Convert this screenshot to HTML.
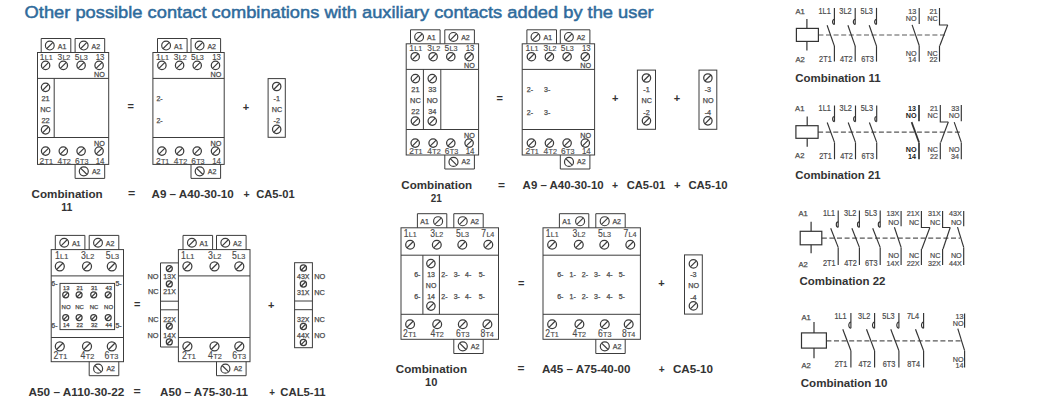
<!DOCTYPE html>
<html><head><meta charset="utf-8"><style>
html,body{margin:0;padding:0;background:#fff;}
body{width:1060px;height:414px;overflow:hidden;}
svg{display:block;font-family:"Liberation Sans",sans-serif;}
</style></head><body>
<svg width="1060" height="414" viewBox="0 0 1060 414">
<rect x="0" y="0" width="1060" height="414" fill="#fff"/>
<text x="24.63" y="18.2" font-size="17.4" fill="#2f6b9c" stroke="#2f6b9c" stroke-width="0.5" textLength="629.07" lengthAdjust="spacingAndGlyphs">Other possible contact combinations with auxiliary contacts added by the user</text>
<rect x="37.5" y="52.5" width="71.2" height="111.9" fill="none" stroke="#3c3c3c" stroke-width="1"/>
<line x1="37.5" y1="78.4" x2="108.7" y2="78.4" stroke="#3c3c3c" stroke-width="1"/>
<line x1="37.5" y1="137.5" x2="108.7" y2="137.5" stroke="#3c3c3c" stroke-width="1"/>
<polyline points="41.2,52.5 41.2,38.5 70.8,38.5 70.8,52.5" fill="none" stroke="#3c3c3c" stroke-width="1"/>
<polyline points="75.1,52.5 75.1,38.5 104.7,38.5 104.7,52.5" fill="none" stroke="#3c3c3c" stroke-width="1"/>
<circle cx="49.8" cy="45.6" r="4.4" fill="none" stroke="#3c3c3c" stroke-width="1.15"/>
<line x1="46.63" y1="48.77" x2="52.97" y2="42.43" stroke="#3c3c3c" stroke-width="1.15"/>
<text x="57.8" y="48.5" font-size="7" fill="#4a4a4a" stroke="#4a4a4a" stroke-width="0.25">A1</text>
<circle cx="83.7" cy="45.6" r="4.4" fill="none" stroke="#3c3c3c" stroke-width="1.15"/>
<line x1="80.53" y1="48.77" x2="86.87" y2="42.43" stroke="#3c3c3c" stroke-width="1.15"/>
<text x="91.5" y="48.5" font-size="7" fill="#4a4a4a" stroke="#4a4a4a" stroke-width="0.25">A2</text>
<circle cx="45.6" cy="65.4" r="4.2" fill="none" stroke="#3c3c3c" stroke-width="1.25"/>
<line x1="42.58" y1="68.42" x2="48.62" y2="62.38" stroke="#3c3c3c" stroke-width="1.25"/>
<circle cx="63.3" cy="65.4" r="4.2" fill="none" stroke="#3c3c3c" stroke-width="1.25"/>
<line x1="60.28" y1="68.42" x2="66.32" y2="62.38" stroke="#3c3c3c" stroke-width="1.25"/>
<circle cx="81.1" cy="65.4" r="4.2" fill="none" stroke="#3c3c3c" stroke-width="1.25"/>
<line x1="78.08" y1="68.42" x2="84.12" y2="62.38" stroke="#3c3c3c" stroke-width="1.25"/>
<circle cx="99.1" cy="65.4" r="4.2" fill="none" stroke="#3c3c3c" stroke-width="1.25"/>
<line x1="96.08" y1="68.42" x2="102.12" y2="62.38" stroke="#3c3c3c" stroke-width="1.25"/>
<text transform="translate(39.7,60) scale(0.86,1)" font-size="9.8" fill="#4a4a4a" stroke="#4a4a4a" stroke-width="0.15">1</text>
<text x="44.69" y="60" font-size="7.2" fill="#4a4a4a" stroke="#4a4a4a" stroke-width="0.15">L1</text>
<text transform="translate(57.4,60) scale(0.86,1)" font-size="9.8" fill="#4a4a4a" stroke="#4a4a4a" stroke-width="0.15">3</text>
<text x="62.39" y="60" font-size="7.2" fill="#4a4a4a" stroke="#4a4a4a" stroke-width="0.15">L2</text>
<text transform="translate(74.8,60) scale(0.86,1)" font-size="9.8" fill="#4a4a4a" stroke="#4a4a4a" stroke-width="0.15">5</text>
<text x="79.79" y="60" font-size="7.2" fill="#4a4a4a" stroke="#4a4a4a" stroke-width="0.15">L3</text>
<text transform="translate(104.5,60) scale(0.82,1)" font-size="9.6" text-anchor="end" fill="#4a4a4a" stroke="#4a4a4a" stroke-width="0.15">13</text>
<text transform="translate(104.9,76.9) scale(0.95,1)" font-size="7.6" text-anchor="end" fill="#4a4a4a" stroke="#4a4a4a" stroke-width="0.25">NO</text>
<circle cx="45.6" cy="151.1" r="4.2" fill="none" stroke="#3c3c3c" stroke-width="1.25"/>
<line x1="42.58" y1="154.12" x2="48.62" y2="148.08" stroke="#3c3c3c" stroke-width="1.25"/>
<circle cx="63.3" cy="151.1" r="4.2" fill="none" stroke="#3c3c3c" stroke-width="1.25"/>
<line x1="60.28" y1="154.12" x2="66.32" y2="148.08" stroke="#3c3c3c" stroke-width="1.25"/>
<circle cx="81.1" cy="151.1" r="4.2" fill="none" stroke="#3c3c3c" stroke-width="1.25"/>
<line x1="78.08" y1="154.12" x2="84.12" y2="148.08" stroke="#3c3c3c" stroke-width="1.25"/>
<circle cx="99.1" cy="151.1" r="4.2" fill="none" stroke="#3c3c3c" stroke-width="1.25"/>
<line x1="96.08" y1="154.12" x2="102.12" y2="148.08" stroke="#3c3c3c" stroke-width="1.25"/>
<text transform="translate(104.9,145.8) scale(0.95,1)" font-size="7.6" text-anchor="end" fill="#4a4a4a" stroke="#4a4a4a" stroke-width="0.25">NO</text>
<text transform="translate(39.6,163.5) scale(0.86,1)" font-size="9.8" fill="#4a4a4a" stroke="#4a4a4a" stroke-width="0.15">2</text>
<text x="44.59" y="163.5" font-size="7.2" fill="#4a4a4a" stroke="#4a4a4a" stroke-width="0.15">T1</text>
<text transform="translate(57.5,163.5) scale(0.86,1)" font-size="9.8" fill="#4a4a4a" stroke="#4a4a4a" stroke-width="0.15">4</text>
<text x="62.49" y="163.5" font-size="7.2" fill="#4a4a4a" stroke="#4a4a4a" stroke-width="0.15">T2</text>
<text transform="translate(75.1,163.5) scale(0.86,1)" font-size="9.8" fill="#4a4a4a" stroke="#4a4a4a" stroke-width="0.15">6</text>
<text x="80.09" y="163.5" font-size="7.2" fill="#4a4a4a" stroke="#4a4a4a" stroke-width="0.15">T3</text>
<text transform="translate(104.5,163.5) scale(0.82,1)" font-size="9.6" text-anchor="end" fill="#4a4a4a" stroke="#4a4a4a" stroke-width="0.15">14</text>
<polyline points="75.1,164.4 75.1,178.4 104.7,178.4 104.7,164.4" fill="none" stroke="#3c3c3c" stroke-width="1"/>
<circle cx="83.8" cy="171.3" r="4.5" fill="none" stroke="#3c3c3c" stroke-width="1.2"/>
<line x1="80.56" y1="168.06" x2="87.04" y2="174.54" stroke="#3c3c3c" stroke-width="1.2"/>
<text x="91.9" y="173.8" font-size="7" fill="#4a4a4a" stroke="#4a4a4a" stroke-width="0.25">A2</text>
<line x1="54.2" y1="78.5" x2="54.2" y2="138" stroke="#3c3c3c" stroke-width="1"/>
<circle cx="45.55" cy="87.3" r="4.2" fill="none" stroke="#3c3c3c" stroke-width="1.25"/>
<line x1="42.53" y1="90.32" x2="48.57" y2="84.28" stroke="#3c3c3c" stroke-width="1.25"/>
<text x="45.55" y="100.96" font-size="7.4" text-anchor="middle" fill="#4a4a4a" stroke="#4a4a4a" stroke-width="0.25">21</text>
<text x="45.55" y="111.66" font-size="7.4" text-anchor="middle" fill="#4a4a4a" stroke="#4a4a4a" stroke-width="0.25">NC</text>
<text x="45.55" y="123.16" font-size="7.4" text-anchor="middle" fill="#4a4a4a" stroke="#4a4a4a" stroke-width="0.25">22</text>
<circle cx="45.55" cy="129.8" r="4.2" fill="none" stroke="#3c3c3c" stroke-width="1.25"/>
<line x1="42.53" y1="132.82" x2="48.57" y2="126.78" stroke="#3c3c3c" stroke-width="1.25"/>
<text x="130.6" y="110.43" font-size="11" text-anchor="middle" font-weight="bold" fill="#333">=</text>
<rect x="152.9" y="52.5" width="71.3" height="111.9" fill="none" stroke="#3c3c3c" stroke-width="1"/>
<line x1="152.9" y1="78.4" x2="224.2" y2="78.4" stroke="#3c3c3c" stroke-width="1"/>
<line x1="152.9" y1="137.5" x2="224.2" y2="137.5" stroke="#3c3c3c" stroke-width="1"/>
<polyline points="157.5,52.5 157.5,38.5 187.1,38.5 187.1,52.5" fill="none" stroke="#3c3c3c" stroke-width="1"/>
<polyline points="191,52.5 191,38.5 220.6,38.5 220.6,52.5" fill="none" stroke="#3c3c3c" stroke-width="1"/>
<circle cx="166.1" cy="45.6" r="4.4" fill="none" stroke="#3c3c3c" stroke-width="1.15"/>
<line x1="162.93" y1="48.77" x2="169.27" y2="42.43" stroke="#3c3c3c" stroke-width="1.15"/>
<text x="174.1" y="48.5" font-size="7" fill="#4a4a4a" stroke="#4a4a4a" stroke-width="0.25">A1</text>
<circle cx="199.6" cy="45.6" r="4.4" fill="none" stroke="#3c3c3c" stroke-width="1.15"/>
<line x1="196.43" y1="48.77" x2="202.77" y2="42.43" stroke="#3c3c3c" stroke-width="1.15"/>
<text x="207.4" y="48.5" font-size="7" fill="#4a4a4a" stroke="#4a4a4a" stroke-width="0.25">A2</text>
<circle cx="161.9" cy="65.4" r="4.2" fill="none" stroke="#3c3c3c" stroke-width="1.25"/>
<line x1="158.88" y1="68.42" x2="164.92" y2="62.38" stroke="#3c3c3c" stroke-width="1.25"/>
<circle cx="179.6" cy="65.4" r="4.2" fill="none" stroke="#3c3c3c" stroke-width="1.25"/>
<line x1="176.58" y1="68.42" x2="182.62" y2="62.38" stroke="#3c3c3c" stroke-width="1.25"/>
<circle cx="197.2" cy="65.4" r="4.2" fill="none" stroke="#3c3c3c" stroke-width="1.25"/>
<line x1="194.18" y1="68.42" x2="200.22" y2="62.38" stroke="#3c3c3c" stroke-width="1.25"/>
<circle cx="215.5" cy="65.4" r="4.2" fill="none" stroke="#3c3c3c" stroke-width="1.25"/>
<line x1="212.48" y1="68.42" x2="218.52" y2="62.38" stroke="#3c3c3c" stroke-width="1.25"/>
<text transform="translate(156,60) scale(0.86,1)" font-size="9.8" fill="#4a4a4a" stroke="#4a4a4a" stroke-width="0.15">1</text>
<text x="160.99" y="60" font-size="7.2" fill="#4a4a4a" stroke="#4a4a4a" stroke-width="0.15">L1</text>
<text transform="translate(173.7,60) scale(0.86,1)" font-size="9.8" fill="#4a4a4a" stroke="#4a4a4a" stroke-width="0.15">3</text>
<text x="178.69" y="60" font-size="7.2" fill="#4a4a4a" stroke="#4a4a4a" stroke-width="0.15">L2</text>
<text transform="translate(190.9,60) scale(0.86,1)" font-size="9.8" fill="#4a4a4a" stroke="#4a4a4a" stroke-width="0.15">5</text>
<text x="195.89" y="60" font-size="7.2" fill="#4a4a4a" stroke="#4a4a4a" stroke-width="0.15">L3</text>
<text transform="translate(220.9,60) scale(0.82,1)" font-size="9.6" text-anchor="end" fill="#4a4a4a" stroke="#4a4a4a" stroke-width="0.15">13</text>
<text transform="translate(221.3,76.9) scale(0.95,1)" font-size="7.6" text-anchor="end" fill="#4a4a4a" stroke="#4a4a4a" stroke-width="0.25">NO</text>
<circle cx="161.9" cy="151.1" r="4.2" fill="none" stroke="#3c3c3c" stroke-width="1.25"/>
<line x1="158.88" y1="154.12" x2="164.92" y2="148.08" stroke="#3c3c3c" stroke-width="1.25"/>
<circle cx="179.6" cy="151.1" r="4.2" fill="none" stroke="#3c3c3c" stroke-width="1.25"/>
<line x1="176.58" y1="154.12" x2="182.62" y2="148.08" stroke="#3c3c3c" stroke-width="1.25"/>
<circle cx="197.2" cy="151.1" r="4.2" fill="none" stroke="#3c3c3c" stroke-width="1.25"/>
<line x1="194.18" y1="154.12" x2="200.22" y2="148.08" stroke="#3c3c3c" stroke-width="1.25"/>
<circle cx="215.5" cy="151.1" r="4.2" fill="none" stroke="#3c3c3c" stroke-width="1.25"/>
<line x1="212.48" y1="154.12" x2="218.52" y2="148.08" stroke="#3c3c3c" stroke-width="1.25"/>
<text transform="translate(221.3,145.8) scale(0.95,1)" font-size="7.6" text-anchor="end" fill="#4a4a4a" stroke="#4a4a4a" stroke-width="0.25">NO</text>
<text transform="translate(155.9,163.5) scale(0.86,1)" font-size="9.8" fill="#4a4a4a" stroke="#4a4a4a" stroke-width="0.15">2</text>
<text x="160.89" y="163.5" font-size="7.2" fill="#4a4a4a" stroke="#4a4a4a" stroke-width="0.15">T1</text>
<text transform="translate(173.8,163.5) scale(0.86,1)" font-size="9.8" fill="#4a4a4a" stroke="#4a4a4a" stroke-width="0.15">4</text>
<text x="178.79" y="163.5" font-size="7.2" fill="#4a4a4a" stroke="#4a4a4a" stroke-width="0.15">T2</text>
<text transform="translate(191.2,163.5) scale(0.86,1)" font-size="9.8" fill="#4a4a4a" stroke="#4a4a4a" stroke-width="0.15">6</text>
<text x="196.19" y="163.5" font-size="7.2" fill="#4a4a4a" stroke="#4a4a4a" stroke-width="0.15">T3</text>
<text transform="translate(220.9,163.5) scale(0.82,1)" font-size="9.6" text-anchor="end" fill="#4a4a4a" stroke="#4a4a4a" stroke-width="0.15">14</text>
<polyline points="191,164.4 191,178.4 220.6,178.4 220.6,164.4" fill="none" stroke="#3c3c3c" stroke-width="1"/>
<circle cx="199.7" cy="171.3" r="4.5" fill="none" stroke="#3c3c3c" stroke-width="1.2"/>
<line x1="196.46" y1="168.06" x2="202.94" y2="174.54" stroke="#3c3c3c" stroke-width="1.2"/>
<text x="207.8" y="173.8" font-size="7" fill="#4a4a4a" stroke="#4a4a4a" stroke-width="0.25">A2</text>
<text x="156.4" y="101.12" font-size="7" fill="#4a4a4a" stroke="#4a4a4a" stroke-width="0.25">2-</text>
<text x="156.4" y="122.82" font-size="7" fill="#4a4a4a" stroke="#4a4a4a" stroke-width="0.25">2-</text>
<text x="245.9" y="110.53" font-size="11" text-anchor="middle" font-weight="bold" fill="#333">+</text>
<rect x="268.1" y="78.6" width="17.2" height="58.7" fill="none" stroke="#3c3c3c" stroke-width="1"/>
<circle cx="276.7" cy="86.5" r="4.2" fill="none" stroke="#3c3c3c" stroke-width="1.25"/>
<line x1="273.68" y1="89.52" x2="279.72" y2="83.48" stroke="#3c3c3c" stroke-width="1.25"/>
<text x="276.7" y="100.69" font-size="7.2" text-anchor="middle" fill="#4a4a4a" stroke="#4a4a4a" stroke-width="0.25">-1</text>
<text x="276.9" y="111.79" font-size="7.2" text-anchor="middle" fill="#4a4a4a" stroke="#4a4a4a" stroke-width="0.25">NC</text>
<text x="276.7" y="123.39" font-size="7.2" text-anchor="middle" fill="#4a4a4a" stroke="#4a4a4a" stroke-width="0.25">-2</text>
<circle cx="276.7" cy="129.3" r="4.2" fill="none" stroke="#3c3c3c" stroke-width="1.25"/>
<line x1="273.68" y1="132.32" x2="279.72" y2="126.28" stroke="#3c3c3c" stroke-width="1.25"/>
<text x="31.52" y="197.8" font-size="11.4" font-weight="bold" fill="#333" textLength="71.2" lengthAdjust="spacingAndGlyphs">Combination</text>
<text x="61.17" y="211.4" font-size="11.4" font-weight="bold" fill="#333" textLength="11.11" lengthAdjust="spacingAndGlyphs">11</text>
<text x="128.09" y="197" font-size="11.4" font-weight="bold" fill="#333" textLength="7.22" lengthAdjust="spacingAndGlyphs">=</text>
<text x="151.51" y="197.8" font-size="11.4" font-weight="bold" fill="#333" textLength="82.26" lengthAdjust="spacingAndGlyphs">A9 – A40-30-10</text>
<text x="243.46" y="197.8" font-size="11.4" font-weight="bold" fill="#333" textLength="6.17" lengthAdjust="spacingAndGlyphs">+</text>
<text x="256.24" y="197.8" font-size="11.4" font-weight="bold" fill="#333" textLength="38.47" lengthAdjust="spacingAndGlyphs">CA5-01</text>
<rect x="406.2" y="43.8" width="72.4" height="111.2" fill="none" stroke="#3c3c3c" stroke-width="1"/>
<line x1="406.2" y1="69.4" x2="478.6" y2="69.4" stroke="#3c3c3c" stroke-width="1"/>
<line x1="406.2" y1="129.5" x2="478.6" y2="129.5" stroke="#3c3c3c" stroke-width="1"/>
<polyline points="410.5,43.8 410.5,29.8 440.1,29.8 440.1,43.8" fill="none" stroke="#3c3c3c" stroke-width="1"/>
<polyline points="444.8,43.8 444.8,29.8 474.4,29.8 474.4,43.8" fill="none" stroke="#3c3c3c" stroke-width="1"/>
<circle cx="419.1" cy="36.9" r="4.4" fill="none" stroke="#3c3c3c" stroke-width="1.15"/>
<line x1="415.93" y1="40.07" x2="422.27" y2="33.73" stroke="#3c3c3c" stroke-width="1.15"/>
<text x="427.1" y="39.8" font-size="7" fill="#4a4a4a" stroke="#4a4a4a" stroke-width="0.25">A1</text>
<circle cx="453.4" cy="36.9" r="4.4" fill="none" stroke="#3c3c3c" stroke-width="1.15"/>
<line x1="450.23" y1="40.07" x2="456.57" y2="33.73" stroke="#3c3c3c" stroke-width="1.15"/>
<text x="461.2" y="39.8" font-size="7" fill="#4a4a4a" stroke="#4a4a4a" stroke-width="0.25">A2</text>
<circle cx="415.2" cy="56.7" r="4.2" fill="none" stroke="#3c3c3c" stroke-width="1.25"/>
<line x1="412.18" y1="59.72" x2="418.22" y2="53.68" stroke="#3c3c3c" stroke-width="1.25"/>
<circle cx="433.1" cy="56.7" r="4.2" fill="none" stroke="#3c3c3c" stroke-width="1.25"/>
<line x1="430.08" y1="59.72" x2="436.12" y2="53.68" stroke="#3c3c3c" stroke-width="1.25"/>
<circle cx="450.8" cy="56.7" r="4.2" fill="none" stroke="#3c3c3c" stroke-width="1.25"/>
<line x1="447.78" y1="59.72" x2="453.82" y2="53.68" stroke="#3c3c3c" stroke-width="1.25"/>
<circle cx="469.1" cy="56.7" r="4.2" fill="none" stroke="#3c3c3c" stroke-width="1.25"/>
<line x1="466.08" y1="59.72" x2="472.12" y2="53.68" stroke="#3c3c3c" stroke-width="1.25"/>
<text transform="translate(409.3,51.3) scale(0.86,1)" font-size="9.8" fill="#4a4a4a" stroke="#4a4a4a" stroke-width="0.15">1</text>
<text x="414.29" y="51.3" font-size="7.2" fill="#4a4a4a" stroke="#4a4a4a" stroke-width="0.15">L1</text>
<text transform="translate(427.2,51.3) scale(0.86,1)" font-size="9.8" fill="#4a4a4a" stroke="#4a4a4a" stroke-width="0.15">3</text>
<text x="432.19" y="51.3" font-size="7.2" fill="#4a4a4a" stroke="#4a4a4a" stroke-width="0.15">L2</text>
<text transform="translate(444.5,51.3) scale(0.86,1)" font-size="9.8" fill="#4a4a4a" stroke="#4a4a4a" stroke-width="0.15">5</text>
<text x="449.49" y="51.3" font-size="7.2" fill="#4a4a4a" stroke="#4a4a4a" stroke-width="0.15">L3</text>
<text transform="translate(474.5,51.3) scale(0.82,1)" font-size="9.6" text-anchor="end" fill="#4a4a4a" stroke="#4a4a4a" stroke-width="0.15">13</text>
<text transform="translate(474.9,68.2) scale(0.95,1)" font-size="7.6" text-anchor="end" fill="#4a4a4a" stroke="#4a4a4a" stroke-width="0.25">NO</text>
<circle cx="415.2" cy="143.1" r="4.2" fill="none" stroke="#3c3c3c" stroke-width="1.25"/>
<line x1="412.18" y1="146.12" x2="418.22" y2="140.08" stroke="#3c3c3c" stroke-width="1.25"/>
<circle cx="433.1" cy="143.1" r="4.2" fill="none" stroke="#3c3c3c" stroke-width="1.25"/>
<line x1="430.08" y1="146.12" x2="436.12" y2="140.08" stroke="#3c3c3c" stroke-width="1.25"/>
<circle cx="450.8" cy="143.1" r="4.2" fill="none" stroke="#3c3c3c" stroke-width="1.25"/>
<line x1="447.78" y1="146.12" x2="453.82" y2="140.08" stroke="#3c3c3c" stroke-width="1.25"/>
<circle cx="469.1" cy="143.1" r="4.2" fill="none" stroke="#3c3c3c" stroke-width="1.25"/>
<line x1="466.08" y1="146.12" x2="472.12" y2="140.08" stroke="#3c3c3c" stroke-width="1.25"/>
<text transform="translate(474.9,137.8) scale(0.95,1)" font-size="7.6" text-anchor="end" fill="#4a4a4a" stroke="#4a4a4a" stroke-width="0.25">NO</text>
<text transform="translate(409.2,154.1) scale(0.86,1)" font-size="9.8" fill="#4a4a4a" stroke="#4a4a4a" stroke-width="0.15">2</text>
<text x="414.19" y="154.1" font-size="7.2" fill="#4a4a4a" stroke="#4a4a4a" stroke-width="0.15">T1</text>
<text transform="translate(427.3,154.1) scale(0.86,1)" font-size="9.8" fill="#4a4a4a" stroke="#4a4a4a" stroke-width="0.15">4</text>
<text x="432.29" y="154.1" font-size="7.2" fill="#4a4a4a" stroke="#4a4a4a" stroke-width="0.15">T2</text>
<text transform="translate(444.8,154.1) scale(0.86,1)" font-size="9.8" fill="#4a4a4a" stroke="#4a4a4a" stroke-width="0.15">6</text>
<text x="449.79" y="154.1" font-size="7.2" fill="#4a4a4a" stroke="#4a4a4a" stroke-width="0.15">T3</text>
<text transform="translate(474.5,154.1) scale(0.82,1)" font-size="9.6" text-anchor="end" fill="#4a4a4a" stroke="#4a4a4a" stroke-width="0.15">14</text>
<polyline points="444.8,155 444.8,169 474.4,169 474.4,155" fill="none" stroke="#3c3c3c" stroke-width="1"/>
<circle cx="453.5" cy="161.9" r="4.5" fill="none" stroke="#3c3c3c" stroke-width="1.2"/>
<line x1="450.26" y1="158.66" x2="456.74" y2="165.14" stroke="#3c3c3c" stroke-width="1.2"/>
<text x="461.6" y="164.4" font-size="7" fill="#4a4a4a" stroke="#4a4a4a" stroke-width="0.25">A2</text>
<line x1="423.4" y1="69.4" x2="423.4" y2="129.5" stroke="#3c3c3c" stroke-width="1"/>
<line x1="440.8" y1="69.4" x2="440.8" y2="129.5" stroke="#3c3c3c" stroke-width="1"/>
<circle cx="415.4" cy="78.6" r="4.2" fill="none" stroke="#3c3c3c" stroke-width="1.25"/>
<line x1="412.38" y1="81.62" x2="418.42" y2="75.58" stroke="#3c3c3c" stroke-width="1.25"/>
<text x="415.4" y="92.26" font-size="7.4" text-anchor="middle" fill="#4a4a4a" stroke="#4a4a4a" stroke-width="0.25">21</text>
<text x="415.4" y="102.96" font-size="7.4" text-anchor="middle" fill="#4a4a4a" stroke="#4a4a4a" stroke-width="0.25">NC</text>
<text x="415.4" y="114.46" font-size="7.4" text-anchor="middle" fill="#4a4a4a" stroke="#4a4a4a" stroke-width="0.25">22</text>
<circle cx="415.4" cy="121.1" r="4.2" fill="none" stroke="#3c3c3c" stroke-width="1.25"/>
<line x1="412.38" y1="124.12" x2="418.42" y2="118.08" stroke="#3c3c3c" stroke-width="1.25"/>
<circle cx="432.25" cy="78.6" r="4.2" fill="none" stroke="#3c3c3c" stroke-width="1.25"/>
<line x1="429.23" y1="81.62" x2="435.27" y2="75.58" stroke="#3c3c3c" stroke-width="1.25"/>
<text x="432.25" y="92.26" font-size="7.4" text-anchor="middle" fill="#4a4a4a" stroke="#4a4a4a" stroke-width="0.25">33</text>
<text x="432.25" y="102.96" font-size="7.4" text-anchor="middle" fill="#4a4a4a" stroke="#4a4a4a" stroke-width="0.25">NO</text>
<text x="432.25" y="114.46" font-size="7.4" text-anchor="middle" fill="#4a4a4a" stroke="#4a4a4a" stroke-width="0.25">34</text>
<circle cx="432.25" cy="121.1" r="4.2" fill="none" stroke="#3c3c3c" stroke-width="1.25"/>
<line x1="429.23" y1="124.12" x2="435.27" y2="118.08" stroke="#3c3c3c" stroke-width="1.25"/>
<text x="499.7" y="101.53" font-size="11" text-anchor="middle" font-weight="bold" fill="#333">=</text>
<rect x="522.2" y="43.8" width="72.4" height="111.2" fill="none" stroke="#3c3c3c" stroke-width="1"/>
<line x1="522.2" y1="69.4" x2="594.6" y2="69.4" stroke="#3c3c3c" stroke-width="1"/>
<line x1="522.2" y1="129.5" x2="594.6" y2="129.5" stroke="#3c3c3c" stroke-width="1"/>
<polyline points="526.9,43.8 526.9,29.8 556.5,29.8 556.5,43.8" fill="none" stroke="#3c3c3c" stroke-width="1"/>
<polyline points="560.3,43.8 560.3,29.8 589.9,29.8 589.9,43.8" fill="none" stroke="#3c3c3c" stroke-width="1"/>
<circle cx="535.5" cy="36.9" r="4.4" fill="none" stroke="#3c3c3c" stroke-width="1.15"/>
<line x1="532.33" y1="40.07" x2="538.67" y2="33.73" stroke="#3c3c3c" stroke-width="1.15"/>
<text x="543.5" y="39.8" font-size="7" fill="#4a4a4a" stroke="#4a4a4a" stroke-width="0.25">A1</text>
<circle cx="568.9" cy="36.9" r="4.4" fill="none" stroke="#3c3c3c" stroke-width="1.15"/>
<line x1="565.73" y1="40.07" x2="572.07" y2="33.73" stroke="#3c3c3c" stroke-width="1.15"/>
<text x="576.7" y="39.8" font-size="7" fill="#4a4a4a" stroke="#4a4a4a" stroke-width="0.25">A2</text>
<circle cx="531.4" cy="56.7" r="4.2" fill="none" stroke="#3c3c3c" stroke-width="1.25"/>
<line x1="528.38" y1="59.72" x2="534.42" y2="53.68" stroke="#3c3c3c" stroke-width="1.25"/>
<circle cx="549.4" cy="56.7" r="4.2" fill="none" stroke="#3c3c3c" stroke-width="1.25"/>
<line x1="546.38" y1="59.72" x2="552.42" y2="53.68" stroke="#3c3c3c" stroke-width="1.25"/>
<circle cx="567.1" cy="56.7" r="4.2" fill="none" stroke="#3c3c3c" stroke-width="1.25"/>
<line x1="564.08" y1="59.72" x2="570.12" y2="53.68" stroke="#3c3c3c" stroke-width="1.25"/>
<circle cx="585.3" cy="56.7" r="4.2" fill="none" stroke="#3c3c3c" stroke-width="1.25"/>
<line x1="582.28" y1="59.72" x2="588.32" y2="53.68" stroke="#3c3c3c" stroke-width="1.25"/>
<text transform="translate(525.5,51.3) scale(0.86,1)" font-size="9.8" fill="#4a4a4a" stroke="#4a4a4a" stroke-width="0.15">1</text>
<text x="530.49" y="51.3" font-size="7.2" fill="#4a4a4a" stroke="#4a4a4a" stroke-width="0.15">L1</text>
<text transform="translate(543.5,51.3) scale(0.86,1)" font-size="9.8" fill="#4a4a4a" stroke="#4a4a4a" stroke-width="0.15">3</text>
<text x="548.49" y="51.3" font-size="7.2" fill="#4a4a4a" stroke="#4a4a4a" stroke-width="0.15">L2</text>
<text transform="translate(560.8,51.3) scale(0.86,1)" font-size="9.8" fill="#4a4a4a" stroke="#4a4a4a" stroke-width="0.15">5</text>
<text x="565.79" y="51.3" font-size="7.2" fill="#4a4a4a" stroke="#4a4a4a" stroke-width="0.15">L3</text>
<text transform="translate(590.7,51.3) scale(0.82,1)" font-size="9.6" text-anchor="end" fill="#4a4a4a" stroke="#4a4a4a" stroke-width="0.15">13</text>
<text transform="translate(591.1,68.2) scale(0.95,1)" font-size="7.6" text-anchor="end" fill="#4a4a4a" stroke="#4a4a4a" stroke-width="0.25">NO</text>
<circle cx="531.4" cy="143.1" r="4.2" fill="none" stroke="#3c3c3c" stroke-width="1.25"/>
<line x1="528.38" y1="146.12" x2="534.42" y2="140.08" stroke="#3c3c3c" stroke-width="1.25"/>
<circle cx="549.4" cy="143.1" r="4.2" fill="none" stroke="#3c3c3c" stroke-width="1.25"/>
<line x1="546.38" y1="146.12" x2="552.42" y2="140.08" stroke="#3c3c3c" stroke-width="1.25"/>
<circle cx="567.1" cy="143.1" r="4.2" fill="none" stroke="#3c3c3c" stroke-width="1.25"/>
<line x1="564.08" y1="146.12" x2="570.12" y2="140.08" stroke="#3c3c3c" stroke-width="1.25"/>
<circle cx="585.3" cy="143.1" r="4.2" fill="none" stroke="#3c3c3c" stroke-width="1.25"/>
<line x1="582.28" y1="146.12" x2="588.32" y2="140.08" stroke="#3c3c3c" stroke-width="1.25"/>
<text transform="translate(591.1,137.8) scale(0.95,1)" font-size="7.6" text-anchor="end" fill="#4a4a4a" stroke="#4a4a4a" stroke-width="0.25">NO</text>
<text transform="translate(525.4,154.1) scale(0.86,1)" font-size="9.8" fill="#4a4a4a" stroke="#4a4a4a" stroke-width="0.15">2</text>
<text x="530.39" y="154.1" font-size="7.2" fill="#4a4a4a" stroke="#4a4a4a" stroke-width="0.15">T1</text>
<text transform="translate(543.6,154.1) scale(0.86,1)" font-size="9.8" fill="#4a4a4a" stroke="#4a4a4a" stroke-width="0.15">4</text>
<text x="548.59" y="154.1" font-size="7.2" fill="#4a4a4a" stroke="#4a4a4a" stroke-width="0.15">T2</text>
<text transform="translate(561.1,154.1) scale(0.86,1)" font-size="9.8" fill="#4a4a4a" stroke="#4a4a4a" stroke-width="0.15">6</text>
<text x="566.09" y="154.1" font-size="7.2" fill="#4a4a4a" stroke="#4a4a4a" stroke-width="0.15">T3</text>
<text transform="translate(590.7,154.1) scale(0.82,1)" font-size="9.6" text-anchor="end" fill="#4a4a4a" stroke="#4a4a4a" stroke-width="0.15">14</text>
<polyline points="560.3,155 560.3,169 589.9,169 589.9,155" fill="none" stroke="#3c3c3c" stroke-width="1"/>
<circle cx="569" cy="161.9" r="4.5" fill="none" stroke="#3c3c3c" stroke-width="1.2"/>
<line x1="565.76" y1="158.66" x2="572.24" y2="165.14" stroke="#3c3c3c" stroke-width="1.2"/>
<text x="577.1" y="164.4" font-size="7" fill="#4a4a4a" stroke="#4a4a4a" stroke-width="0.25">A2</text>
<text x="526.8" y="91.72" font-size="7" fill="#4a4a4a" stroke="#4a4a4a" stroke-width="0.25">2-</text>
<text x="544" y="91.72" font-size="7" fill="#4a4a4a" stroke="#4a4a4a" stroke-width="0.25">3-</text>
<text x="526.8" y="114.52" font-size="7" fill="#4a4a4a" stroke="#4a4a4a" stroke-width="0.25">2-</text>
<text x="544" y="114.52" font-size="7" fill="#4a4a4a" stroke="#4a4a4a" stroke-width="0.25">3-</text>
<text x="615.2" y="102.23" font-size="11" text-anchor="middle" font-weight="bold" fill="#333">+</text>
<rect x="637.4" y="70.1" width="18.1" height="59.2" fill="none" stroke="#3c3c3c" stroke-width="1"/>
<circle cx="646.45" cy="78" r="4.2" fill="none" stroke="#3c3c3c" stroke-width="1.25"/>
<line x1="643.43" y1="81.02" x2="649.47" y2="74.98" stroke="#3c3c3c" stroke-width="1.25"/>
<text x="646.45" y="92.19" font-size="7.2" text-anchor="middle" fill="#4a4a4a" stroke="#4a4a4a" stroke-width="0.25">-1</text>
<text x="646.65" y="103.29" font-size="7.2" text-anchor="middle" fill="#4a4a4a" stroke="#4a4a4a" stroke-width="0.25">NC</text>
<text x="646.45" y="114.89" font-size="7.2" text-anchor="middle" fill="#4a4a4a" stroke="#4a4a4a" stroke-width="0.25">-2</text>
<circle cx="646.45" cy="120.8" r="4.2" fill="none" stroke="#3c3c3c" stroke-width="1.25"/>
<line x1="643.43" y1="123.82" x2="649.47" y2="117.78" stroke="#3c3c3c" stroke-width="1.25"/>
<text x="677" y="102.13" font-size="11" text-anchor="middle" font-weight="bold" fill="#333">+</text>
<rect x="699" y="70.1" width="17.8" height="59.2" fill="none" stroke="#3c3c3c" stroke-width="1"/>
<circle cx="707.9" cy="78" r="4.2" fill="none" stroke="#3c3c3c" stroke-width="1.25"/>
<line x1="704.88" y1="81.02" x2="710.92" y2="74.98" stroke="#3c3c3c" stroke-width="1.25"/>
<text x="707.9" y="92.19" font-size="7.2" text-anchor="middle" fill="#4a4a4a" stroke="#4a4a4a" stroke-width="0.25">-3</text>
<text x="708.1" y="103.29" font-size="7.2" text-anchor="middle" fill="#4a4a4a" stroke="#4a4a4a" stroke-width="0.25">NO</text>
<text x="707.9" y="114.89" font-size="7.2" text-anchor="middle" fill="#4a4a4a" stroke="#4a4a4a" stroke-width="0.25">-4</text>
<circle cx="707.9" cy="120.8" r="4.2" fill="none" stroke="#3c3c3c" stroke-width="1.25"/>
<line x1="704.88" y1="123.82" x2="710.92" y2="117.78" stroke="#3c3c3c" stroke-width="1.25"/>
<text x="401.32" y="188.9" font-size="11.4" font-weight="bold" fill="#333" textLength="70.79" lengthAdjust="spacingAndGlyphs">Combination</text>
<text x="430.66" y="202.3" font-size="11.4" font-weight="bold" fill="#333" textLength="11.02" lengthAdjust="spacingAndGlyphs">21</text>
<text x="498.1" y="188.5" font-size="11.4" font-weight="bold" fill="#333" textLength="6.99" lengthAdjust="spacingAndGlyphs">=</text>
<text x="522.62" y="189.2" font-size="11.4" font-weight="bold" fill="#333" textLength="81.05" lengthAdjust="spacingAndGlyphs">A9 – A40-30-10</text>
<text x="612.06" y="189.2" font-size="11.4" font-weight="bold" fill="#333" textLength="6.06" lengthAdjust="spacingAndGlyphs">+</text>
<text x="626.64" y="189.2" font-size="11.4" font-weight="bold" fill="#333" textLength="38.57" lengthAdjust="spacingAndGlyphs">CA5-01</text>
<text x="673.93" y="189.2" font-size="11.4" font-weight="bold" fill="#333" textLength="6.52" lengthAdjust="spacingAndGlyphs">+</text>
<text x="688.43" y="189.2" font-size="11.4" font-weight="bold" fill="#333" textLength="39.13" lengthAdjust="spacingAndGlyphs">CA5-10</text>
<rect x="51.2" y="249.6" width="72.3" height="112.1" fill="none" stroke="#3c3c3c" stroke-width="1"/>
<line x1="51.2" y1="275.9" x2="123.5" y2="275.9" stroke="#3c3c3c" stroke-width="1"/>
<line x1="51.2" y1="337.5" x2="123.5" y2="337.5" stroke="#3c3c3c" stroke-width="1"/>
<polyline points="55.3,249.6 55.3,235.4 84.9,235.4 84.9,249.6" fill="none" stroke="#3c3c3c" stroke-width="1"/>
<polyline points="89.2,249.6 89.2,235.4 118.8,235.4 118.8,249.6" fill="none" stroke="#3c3c3c" stroke-width="1"/>
<circle cx="64.2" cy="242.7" r="4.4" fill="none" stroke="#3c3c3c" stroke-width="1.15"/>
<line x1="61.03" y1="245.87" x2="67.37" y2="239.53" stroke="#3c3c3c" stroke-width="1.15"/>
<text x="71.9" y="245.5" font-size="7" fill="#4a4a4a" stroke="#4a4a4a" stroke-width="0.25">A1</text>
<circle cx="98" cy="242.7" r="4.4" fill="none" stroke="#3c3c3c" stroke-width="1.15"/>
<line x1="94.83" y1="245.87" x2="101.17" y2="239.53" stroke="#3c3c3c" stroke-width="1.15"/>
<text x="105.8" y="245.5" font-size="7" fill="#4a4a4a" stroke="#4a4a4a" stroke-width="0.25">A2</text>
<circle cx="59.8" cy="266.3" r="4.5" fill="none" stroke="#3c3c3c" stroke-width="1.25"/>
<line x1="56.56" y1="269.54" x2="63.04" y2="263.06" stroke="#3c3c3c" stroke-width="1.25"/>
<circle cx="59.8" cy="346.3" r="4.5" fill="none" stroke="#3c3c3c" stroke-width="1.25"/>
<line x1="56.56" y1="349.54" x2="63.04" y2="343.06" stroke="#3c3c3c" stroke-width="1.25"/>
<circle cx="87" cy="266.3" r="4.5" fill="none" stroke="#3c3c3c" stroke-width="1.25"/>
<line x1="83.76" y1="269.54" x2="90.24" y2="263.06" stroke="#3c3c3c" stroke-width="1.25"/>
<circle cx="87" cy="346.3" r="4.5" fill="none" stroke="#3c3c3c" stroke-width="1.25"/>
<line x1="83.76" y1="349.54" x2="90.24" y2="343.06" stroke="#3c3c3c" stroke-width="1.25"/>
<circle cx="111.8" cy="266.3" r="4.5" fill="none" stroke="#3c3c3c" stroke-width="1.25"/>
<line x1="108.56" y1="269.54" x2="115.04" y2="263.06" stroke="#3c3c3c" stroke-width="1.25"/>
<circle cx="111.8" cy="346.3" r="4.5" fill="none" stroke="#3c3c3c" stroke-width="1.25"/>
<line x1="108.56" y1="349.54" x2="115.04" y2="343.06" stroke="#3c3c3c" stroke-width="1.25"/>
<text transform="translate(54.9,258.9) scale(0.86,1)" font-size="10.2" fill="#4a4a4a" stroke="#4a4a4a" stroke-width="0.15">1</text>
<text x="60.08" y="258.9" font-size="7.3" fill="#4a4a4a" stroke="#4a4a4a" stroke-width="0.15">L1</text>
<text transform="translate(80.9,258.9) scale(0.86,1)" font-size="10.2" fill="#4a4a4a" stroke="#4a4a4a" stroke-width="0.15">3</text>
<text x="86.08" y="258.9" font-size="7.3" fill="#4a4a4a" stroke="#4a4a4a" stroke-width="0.15">L2</text>
<text transform="translate(105.7,258.9) scale(0.86,1)" font-size="10.2" fill="#4a4a4a" stroke="#4a4a4a" stroke-width="0.15">5</text>
<text x="110.88" y="258.9" font-size="7.3" fill="#4a4a4a" stroke="#4a4a4a" stroke-width="0.15">L3</text>
<text transform="translate(53.6,358.9) scale(0.86,1)" font-size="10.2" fill="#4a4a4a" stroke="#4a4a4a" stroke-width="0.15">2</text>
<text x="58.78" y="358.9" font-size="7.3" fill="#4a4a4a" stroke="#4a4a4a" stroke-width="0.15">T1</text>
<text transform="translate(80.6,358.9) scale(0.86,1)" font-size="10.2" fill="#4a4a4a" stroke="#4a4a4a" stroke-width="0.15">4</text>
<text x="85.78" y="358.9" font-size="7.3" fill="#4a4a4a" stroke="#4a4a4a" stroke-width="0.15">T2</text>
<text transform="translate(104.6,358.9) scale(0.86,1)" font-size="10.2" fill="#4a4a4a" stroke="#4a4a4a" stroke-width="0.15">6</text>
<text x="109.78" y="358.9" font-size="7.3" fill="#4a4a4a" stroke="#4a4a4a" stroke-width="0.15">T3</text>
<polyline points="89.2,361.7 89.2,375.7 118.8,375.7 118.8,361.7" fill="none" stroke="#3c3c3c" stroke-width="1"/>
<circle cx="98.1" cy="368.7" r="4.5" fill="none" stroke="#3c3c3c" stroke-width="1.2"/>
<line x1="94.86" y1="365.46" x2="101.34" y2="371.94" stroke="#3c3c3c" stroke-width="1.2"/>
<text x="106.4" y="371.3" font-size="7" fill="#4a4a4a" stroke="#4a4a4a" stroke-width="0.25">A2</text>
<rect x="60" y="283.4" width="54.6" height="46.2" fill="none" stroke="#3c3c3c" stroke-width="1"/>
<text x="66.3" y="289.79" font-size="5.8" text-anchor="middle" fill="#4a4a4a" stroke="#4a4a4a" stroke-width="0.25">13</text>
<circle cx="65.7" cy="294.8" r="3" fill="none" stroke="#3c3c3c" stroke-width="1.2"/>
<line x1="63.54" y1="296.96" x2="67.86" y2="292.64" stroke="#3c3c3c" stroke-width="1.2"/>
<text x="66.1" y="308.76" font-size="6" text-anchor="middle" fill="#4a4a4a" stroke="#4a4a4a" stroke-width="0.25">NO</text>
<circle cx="65.7" cy="317.6" r="3" fill="none" stroke="#3c3c3c" stroke-width="1.2"/>
<line x1="63.54" y1="319.76" x2="67.86" y2="315.44" stroke="#3c3c3c" stroke-width="1.2"/>
<text x="66.3" y="326.79" font-size="5.8" text-anchor="middle" fill="#4a4a4a" stroke="#4a4a4a" stroke-width="0.25">14</text>
<text x="79.7" y="289.79" font-size="5.8" text-anchor="middle" fill="#4a4a4a" stroke="#4a4a4a" stroke-width="0.25">21</text>
<circle cx="79.1" cy="294.8" r="3" fill="none" stroke="#3c3c3c" stroke-width="1.2"/>
<line x1="76.94" y1="296.96" x2="81.26" y2="292.64" stroke="#3c3c3c" stroke-width="1.2"/>
<text x="79.5" y="308.76" font-size="6" text-anchor="middle" fill="#4a4a4a" stroke="#4a4a4a" stroke-width="0.25">NC</text>
<circle cx="79.1" cy="317.6" r="3" fill="none" stroke="#3c3c3c" stroke-width="1.2"/>
<line x1="76.94" y1="319.76" x2="81.26" y2="315.44" stroke="#3c3c3c" stroke-width="1.2"/>
<text x="79.7" y="326.79" font-size="5.8" text-anchor="middle" fill="#4a4a4a" stroke="#4a4a4a" stroke-width="0.25">22</text>
<text x="94.3" y="289.79" font-size="5.8" text-anchor="middle" fill="#4a4a4a" stroke="#4a4a4a" stroke-width="0.25">31</text>
<circle cx="93.7" cy="294.8" r="3" fill="none" stroke="#3c3c3c" stroke-width="1.2"/>
<line x1="91.54" y1="296.96" x2="95.86" y2="292.64" stroke="#3c3c3c" stroke-width="1.2"/>
<text x="94.1" y="308.76" font-size="6" text-anchor="middle" fill="#4a4a4a" stroke="#4a4a4a" stroke-width="0.25">NC</text>
<circle cx="93.7" cy="317.6" r="3" fill="none" stroke="#3c3c3c" stroke-width="1.2"/>
<line x1="91.54" y1="319.76" x2="95.86" y2="315.44" stroke="#3c3c3c" stroke-width="1.2"/>
<text x="94.3" y="326.79" font-size="5.8" text-anchor="middle" fill="#4a4a4a" stroke="#4a4a4a" stroke-width="0.25">32</text>
<text x="108.8" y="289.79" font-size="5.8" text-anchor="middle" fill="#4a4a4a" stroke="#4a4a4a" stroke-width="0.25">43</text>
<circle cx="108.2" cy="294.8" r="3" fill="none" stroke="#3c3c3c" stroke-width="1.2"/>
<line x1="106.04" y1="296.96" x2="110.36" y2="292.64" stroke="#3c3c3c" stroke-width="1.2"/>
<text x="108.6" y="308.76" font-size="6" text-anchor="middle" fill="#4a4a4a" stroke="#4a4a4a" stroke-width="0.25">NO</text>
<circle cx="108.2" cy="317.6" r="3" fill="none" stroke="#3c3c3c" stroke-width="1.2"/>
<line x1="106.04" y1="319.76" x2="110.36" y2="315.44" stroke="#3c3c3c" stroke-width="1.2"/>
<text x="108.8" y="326.79" font-size="5.8" text-anchor="middle" fill="#4a4a4a" stroke="#4a4a4a" stroke-width="0.25">44</text>
<text x="51.3" y="286.32" font-size="7" fill="#4a4a4a" stroke="#4a4a4a" stroke-width="0.25">6-</text>
<text x="115.4" y="286.32" font-size="7" fill="#4a4a4a" stroke="#4a4a4a" stroke-width="0.25">5-</text>
<text x="51.3" y="327.72" font-size="7" fill="#4a4a4a" stroke="#4a4a4a" stroke-width="0.25">6-</text>
<text x="115.4" y="327.72" font-size="7" fill="#4a4a4a" stroke="#4a4a4a" stroke-width="0.25">5-</text>
<text x="137.3" y="307.63" font-size="11" text-anchor="middle" font-weight="bold" fill="#333">=</text>
<rect x="178.4" y="249.6" width="71.6" height="112.1" fill="none" stroke="#3c3c3c" stroke-width="1"/>
<line x1="178.4" y1="275.9" x2="250" y2="275.9" stroke="#3c3c3c" stroke-width="1"/>
<line x1="178.4" y1="337.5" x2="250" y2="337.5" stroke="#3c3c3c" stroke-width="1"/>
<polyline points="183,249.6 183,235.4 212.6,235.4 212.6,249.6" fill="none" stroke="#3c3c3c" stroke-width="1"/>
<polyline points="216.5,249.6 216.5,235.4 246.1,235.4 246.1,249.6" fill="none" stroke="#3c3c3c" stroke-width="1"/>
<circle cx="191.9" cy="242.7" r="4.4" fill="none" stroke="#3c3c3c" stroke-width="1.15"/>
<line x1="188.73" y1="245.87" x2="195.07" y2="239.53" stroke="#3c3c3c" stroke-width="1.15"/>
<text x="199.6" y="245.5" font-size="7" fill="#4a4a4a" stroke="#4a4a4a" stroke-width="0.25">A1</text>
<circle cx="225.3" cy="242.7" r="4.4" fill="none" stroke="#3c3c3c" stroke-width="1.15"/>
<line x1="222.13" y1="245.87" x2="228.47" y2="239.53" stroke="#3c3c3c" stroke-width="1.15"/>
<text x="233.1" y="245.5" font-size="7" fill="#4a4a4a" stroke="#4a4a4a" stroke-width="0.25">A2</text>
<circle cx="187.4" cy="266.3" r="4.5" fill="none" stroke="#3c3c3c" stroke-width="1.25"/>
<line x1="184.16" y1="269.54" x2="190.64" y2="263.06" stroke="#3c3c3c" stroke-width="1.25"/>
<circle cx="187.4" cy="346.3" r="4.5" fill="none" stroke="#3c3c3c" stroke-width="1.25"/>
<line x1="184.16" y1="349.54" x2="190.64" y2="343.06" stroke="#3c3c3c" stroke-width="1.25"/>
<circle cx="214.5" cy="266.3" r="4.5" fill="none" stroke="#3c3c3c" stroke-width="1.25"/>
<line x1="211.26" y1="269.54" x2="217.74" y2="263.06" stroke="#3c3c3c" stroke-width="1.25"/>
<circle cx="214.5" cy="346.3" r="4.5" fill="none" stroke="#3c3c3c" stroke-width="1.25"/>
<line x1="211.26" y1="349.54" x2="217.74" y2="343.06" stroke="#3c3c3c" stroke-width="1.25"/>
<circle cx="239.3" cy="266.3" r="4.5" fill="none" stroke="#3c3c3c" stroke-width="1.25"/>
<line x1="236.06" y1="269.54" x2="242.54" y2="263.06" stroke="#3c3c3c" stroke-width="1.25"/>
<circle cx="239.3" cy="346.3" r="4.5" fill="none" stroke="#3c3c3c" stroke-width="1.25"/>
<line x1="236.06" y1="349.54" x2="242.54" y2="343.06" stroke="#3c3c3c" stroke-width="1.25"/>
<text transform="translate(181,258.9) scale(0.86,1)" font-size="10.2" fill="#4a4a4a" stroke="#4a4a4a" stroke-width="0.15">1</text>
<text x="186.18" y="258.9" font-size="7.3" fill="#4a4a4a" stroke="#4a4a4a" stroke-width="0.15">L1</text>
<text transform="translate(208.1,258.9) scale(0.86,1)" font-size="10.2" fill="#4a4a4a" stroke="#4a4a4a" stroke-width="0.15">3</text>
<text x="213.28" y="258.9" font-size="7.3" fill="#4a4a4a" stroke="#4a4a4a" stroke-width="0.15">L2</text>
<text transform="translate(232.1,258.9) scale(0.86,1)" font-size="10.2" fill="#4a4a4a" stroke="#4a4a4a" stroke-width="0.15">5</text>
<text x="237.28" y="258.9" font-size="7.3" fill="#4a4a4a" stroke="#4a4a4a" stroke-width="0.15">L3</text>
<text transform="translate(182,358.9) scale(0.86,1)" font-size="10.2" fill="#4a4a4a" stroke="#4a4a4a" stroke-width="0.15">2</text>
<text x="187.18" y="358.9" font-size="7.3" fill="#4a4a4a" stroke="#4a4a4a" stroke-width="0.15">T1</text>
<text transform="translate(208.1,358.9) scale(0.86,1)" font-size="10.2" fill="#4a4a4a" stroke="#4a4a4a" stroke-width="0.15">4</text>
<text x="213.28" y="358.9" font-size="7.3" fill="#4a4a4a" stroke="#4a4a4a" stroke-width="0.15">T2</text>
<text transform="translate(232.3,358.9) scale(0.86,1)" font-size="10.2" fill="#4a4a4a" stroke="#4a4a4a" stroke-width="0.15">6</text>
<text x="237.48" y="358.9" font-size="7.3" fill="#4a4a4a" stroke="#4a4a4a" stroke-width="0.15">T3</text>
<polyline points="216.5,361.7 216.5,375.7 246.1,375.7 246.1,361.7" fill="none" stroke="#3c3c3c" stroke-width="1"/>
<circle cx="225.4" cy="368.7" r="4.5" fill="none" stroke="#3c3c3c" stroke-width="1.2"/>
<line x1="222.16" y1="365.46" x2="228.64" y2="371.94" stroke="#3c3c3c" stroke-width="1.2"/>
<text x="233.7" y="371.3" font-size="7" fill="#4a4a4a" stroke="#4a4a4a" stroke-width="0.25">A2</text>
<polyline points="178.4,262.9 160.5,262.9 160.5,347 178.4,347" fill="none" stroke="#3c3c3c" stroke-width="1"/>
<line x1="160.5" y1="301.2" x2="178.4" y2="301.2" stroke="#3c3c3c" stroke-width="1"/>
<line x1="160.5" y1="309.8" x2="178.4" y2="309.8" stroke="#3c3c3c" stroke-width="1"/>
<circle cx="169.3" cy="268.6" r="3" fill="none" stroke="#3c3c3c" stroke-width="1.25"/>
<line x1="167.14" y1="270.76" x2="171.46" y2="266.44" stroke="#3c3c3c" stroke-width="1.25"/>
<circle cx="169.3" cy="283.9" r="3" fill="none" stroke="#3c3c3c" stroke-width="1.25"/>
<line x1="167.14" y1="286.06" x2="171.46" y2="281.74" stroke="#3c3c3c" stroke-width="1.25"/>
<circle cx="169.3" cy="326.2" r="3" fill="none" stroke="#3c3c3c" stroke-width="1.25"/>
<line x1="167.14" y1="328.36" x2="171.46" y2="324.04" stroke="#3c3c3c" stroke-width="1.25"/>
<circle cx="169.3" cy="341.9" r="3" fill="none" stroke="#3c3c3c" stroke-width="1.25"/>
<line x1="167.14" y1="344.06" x2="171.46" y2="339.74" stroke="#3c3c3c" stroke-width="1.25"/>
<text x="169.6" y="278.82" font-size="7" text-anchor="middle" fill="#4a4a4a" stroke="#4a4a4a" stroke-width="0.25">13X</text>
<text x="158.6" y="278.96" font-size="7.4" text-anchor="end" fill="#4a4a4a" stroke="#4a4a4a" stroke-width="0.25">NO</text>
<text x="169.6" y="294.22" font-size="7" text-anchor="middle" fill="#4a4a4a" stroke="#4a4a4a" stroke-width="0.25">21X</text>
<text x="158.6" y="294.36" font-size="7.4" text-anchor="end" fill="#4a4a4a" stroke="#4a4a4a" stroke-width="0.25">NC</text>
<text x="169.6" y="321.72" font-size="7" text-anchor="middle" fill="#4a4a4a" stroke="#4a4a4a" stroke-width="0.25">22X</text>
<text x="158.6" y="321.86" font-size="7.4" text-anchor="end" fill="#4a4a4a" stroke="#4a4a4a" stroke-width="0.25">NC</text>
<text x="169.6" y="337.52" font-size="7" text-anchor="middle" fill="#4a4a4a" stroke="#4a4a4a" stroke-width="0.25">14X</text>
<text x="158.6" y="337.66" font-size="7.4" text-anchor="end" fill="#4a4a4a" stroke="#4a4a4a" stroke-width="0.25">NO</text>
<text x="271.2" y="308.63" font-size="11" text-anchor="middle" font-weight="bold" fill="#333">+</text>
<rect x="294.6" y="262.7" width="17.8" height="85" fill="none" stroke="#3c3c3c" stroke-width="1"/>
<line x1="294.6" y1="301" x2="312.4" y2="301" stroke="#3c3c3c" stroke-width="1"/>
<line x1="294.6" y1="309.7" x2="312.4" y2="309.7" stroke="#3c3c3c" stroke-width="1"/>
<circle cx="303.4" cy="268" r="3.1" fill="none" stroke="#3c3c3c" stroke-width="1.25"/>
<line x1="301.17" y1="270.23" x2="305.63" y2="265.77" stroke="#3c3c3c" stroke-width="1.25"/>
<circle cx="303.4" cy="284" r="3.1" fill="none" stroke="#3c3c3c" stroke-width="1.25"/>
<line x1="301.17" y1="286.23" x2="305.63" y2="281.77" stroke="#3c3c3c" stroke-width="1.25"/>
<circle cx="303.4" cy="326.5" r="3.1" fill="none" stroke="#3c3c3c" stroke-width="1.25"/>
<line x1="301.17" y1="328.73" x2="305.63" y2="324.27" stroke="#3c3c3c" stroke-width="1.25"/>
<circle cx="303.4" cy="342.4" r="3.1" fill="none" stroke="#3c3c3c" stroke-width="1.25"/>
<line x1="301.17" y1="344.63" x2="305.63" y2="340.17" stroke="#3c3c3c" stroke-width="1.25"/>
<text x="303.3" y="279.02" font-size="7" text-anchor="middle" fill="#4a4a4a" stroke="#4a4a4a" stroke-width="0.25">43X</text>
<text x="314.2" y="279.16" font-size="7.4" fill="#4a4a4a" stroke="#4a4a4a" stroke-width="0.25">NO</text>
<text x="303.3" y="294.52" font-size="7" text-anchor="middle" fill="#4a4a4a" stroke="#4a4a4a" stroke-width="0.25">31X</text>
<text x="314.2" y="294.66" font-size="7.4" fill="#4a4a4a" stroke="#4a4a4a" stroke-width="0.25">NC</text>
<text x="303.3" y="322.12" font-size="7" text-anchor="middle" fill="#4a4a4a" stroke="#4a4a4a" stroke-width="0.25">32X</text>
<text x="314.2" y="322.26" font-size="7.4" fill="#4a4a4a" stroke="#4a4a4a" stroke-width="0.25">NC</text>
<text x="303.3" y="337.52" font-size="7" text-anchor="middle" fill="#4a4a4a" stroke="#4a4a4a" stroke-width="0.25">44X</text>
<text x="314.2" y="337.66" font-size="7.4" fill="#4a4a4a" stroke="#4a4a4a" stroke-width="0.25">NO</text>
<text x="28.51" y="396" font-size="11.4" font-weight="bold" fill="#333" textLength="95.86" lengthAdjust="spacingAndGlyphs">A50 – A110-30-22</text>
<text x="133.49" y="395" font-size="11.4" font-weight="bold" fill="#333" textLength="7.22" lengthAdjust="spacingAndGlyphs">=</text>
<text x="160.11" y="396" font-size="11.4" font-weight="bold" fill="#333" textLength="87.9" lengthAdjust="spacingAndGlyphs">A50 – A75-30-11</text>
<text x="269.29" y="396" font-size="11.4" font-weight="bold" fill="#333" textLength="5.71" lengthAdjust="spacingAndGlyphs">+</text>
<text x="280.34" y="396" font-size="11.4" font-weight="bold" fill="#333" textLength="45.27" lengthAdjust="spacingAndGlyphs">CAL5-11</text>
<rect x="401" y="227.8" width="97.5" height="111.5" fill="none" stroke="#3c3c3c" stroke-width="1"/>
<line x1="401" y1="255.2" x2="498.5" y2="255.2" stroke="#3c3c3c" stroke-width="1"/>
<line x1="401" y1="314.3" x2="498.5" y2="314.3" stroke="#3c3c3c" stroke-width="1"/>
<polyline points="417.4,227.8 417.4,213.7 446.8,213.7 446.8,227.8" fill="none" stroke="#3c3c3c" stroke-width="1"/>
<polyline points="453.8,227.8 453.8,213.7 483.2,213.7 483.2,227.8" fill="none" stroke="#3c3c3c" stroke-width="1"/>
<text x="420.3" y="223.8" font-size="7" fill="#4a4a4a" stroke="#4a4a4a" stroke-width="0.25">A1</text>
<circle cx="438.1" cy="221.2" r="4.5" fill="none" stroke="#3c3c3c" stroke-width="1.15"/>
<line x1="434.86" y1="224.44" x2="441.34" y2="217.96" stroke="#3c3c3c" stroke-width="1.15"/>
<circle cx="462.7" cy="221.2" r="4.5" fill="none" stroke="#3c3c3c" stroke-width="1.15"/>
<line x1="459.46" y1="224.44" x2="465.94" y2="217.96" stroke="#3c3c3c" stroke-width="1.15"/>
<text x="470.4" y="223.8" font-size="7" fill="#4a4a4a" stroke="#4a4a4a" stroke-width="0.25">A2</text>
<circle cx="410.1" cy="244.7" r="4.4" fill="none" stroke="#3c3c3c" stroke-width="1.25"/>
<line x1="406.93" y1="247.87" x2="413.27" y2="241.53" stroke="#3c3c3c" stroke-width="1.25"/>
<circle cx="436.8" cy="244.7" r="4.4" fill="none" stroke="#3c3c3c" stroke-width="1.25"/>
<line x1="433.63" y1="247.87" x2="439.97" y2="241.53" stroke="#3c3c3c" stroke-width="1.25"/>
<circle cx="462.3" cy="244.7" r="4.4" fill="none" stroke="#3c3c3c" stroke-width="1.25"/>
<line x1="459.13" y1="247.87" x2="465.47" y2="241.53" stroke="#3c3c3c" stroke-width="1.25"/>
<circle cx="488.3" cy="244.7" r="4.4" fill="none" stroke="#3c3c3c" stroke-width="1.25"/>
<line x1="485.13" y1="247.87" x2="491.47" y2="241.53" stroke="#3c3c3c" stroke-width="1.25"/>
<circle cx="410.1" cy="324.2" r="4.4" fill="none" stroke="#3c3c3c" stroke-width="1.25"/>
<line x1="406.93" y1="327.37" x2="413.27" y2="321.03" stroke="#3c3c3c" stroke-width="1.25"/>
<circle cx="437.2" cy="324.2" r="4.4" fill="none" stroke="#3c3c3c" stroke-width="1.25"/>
<line x1="434.03" y1="327.37" x2="440.37" y2="321.03" stroke="#3c3c3c" stroke-width="1.25"/>
<circle cx="462.8" cy="324.2" r="4.4" fill="none" stroke="#3c3c3c" stroke-width="1.25"/>
<line x1="459.63" y1="327.37" x2="465.97" y2="321.03" stroke="#3c3c3c" stroke-width="1.25"/>
<circle cx="487.4" cy="324.2" r="4.4" fill="none" stroke="#3c3c3c" stroke-width="1.25"/>
<line x1="484.23" y1="327.37" x2="490.57" y2="321.03" stroke="#3c3c3c" stroke-width="1.25"/>
<text transform="translate(403.7,236.8) scale(0.86,1)" font-size="10" fill="#4a4a4a" stroke="#4a4a4a" stroke-width="0.15">1</text>
<text x="408.78" y="236.8" font-size="7.2" fill="#4a4a4a" stroke="#4a4a4a" stroke-width="0.15">L1</text>
<text transform="translate(430.2,236.8) scale(0.86,1)" font-size="10" fill="#4a4a4a" stroke="#4a4a4a" stroke-width="0.15">3</text>
<text x="435.28" y="236.8" font-size="7.2" fill="#4a4a4a" stroke="#4a4a4a" stroke-width="0.15">L2</text>
<text transform="translate(456,236.8) scale(0.86,1)" font-size="10" fill="#4a4a4a" stroke="#4a4a4a" stroke-width="0.15">5</text>
<text x="461.08" y="236.8" font-size="7.2" fill="#4a4a4a" stroke="#4a4a4a" stroke-width="0.15">L3</text>
<text transform="translate(481.3,236.8) scale(0.86,1)" font-size="10" fill="#4a4a4a" stroke="#4a4a4a" stroke-width="0.15">7</text>
<text x="486.38" y="236.8" font-size="7.2" fill="#4a4a4a" stroke="#4a4a4a" stroke-width="0.15">L4</text>
<text transform="translate(403.1,337.4) scale(0.86,1)" font-size="10" fill="#4a4a4a" stroke="#4a4a4a" stroke-width="0.15">2</text>
<text x="408.18" y="337.4" font-size="7.2" fill="#4a4a4a" stroke="#4a4a4a" stroke-width="0.15">T1</text>
<text transform="translate(430.4,337.4) scale(0.86,1)" font-size="10" fill="#4a4a4a" stroke="#4a4a4a" stroke-width="0.15">4</text>
<text x="435.48" y="337.4" font-size="7.2" fill="#4a4a4a" stroke="#4a4a4a" stroke-width="0.15">T2</text>
<text transform="translate(456,337.4) scale(0.86,1)" font-size="10" fill="#4a4a4a" stroke="#4a4a4a" stroke-width="0.15">6</text>
<text x="461.08" y="337.4" font-size="7.2" fill="#4a4a4a" stroke="#4a4a4a" stroke-width="0.15">T3</text>
<text transform="translate(480.4,337.4) scale(0.86,1)" font-size="10" fill="#4a4a4a" stroke="#4a4a4a" stroke-width="0.15">8</text>
<text x="485.48" y="337.4" font-size="7.2" fill="#4a4a4a" stroke="#4a4a4a" stroke-width="0.15">T4</text>
<polyline points="453.8,339.3 453.8,353.5 483.2,353.5 483.2,339.3" fill="none" stroke="#3c3c3c" stroke-width="1"/>
<circle cx="462.8" cy="346.3" r="4.5" fill="none" stroke="#3c3c3c" stroke-width="1.2"/>
<line x1="459.56" y1="343.06" x2="466.04" y2="349.54" stroke="#3c3c3c" stroke-width="1.2"/>
<text x="470.8" y="348.9" font-size="7" fill="#4a4a4a" stroke="#4a4a4a" stroke-width="0.25">A2</text>
<line x1="422.9" y1="255.2" x2="422.9" y2="314.3" stroke="#3c3c3c" stroke-width="1"/>
<line x1="439.4" y1="255.2" x2="439.4" y2="314.3" stroke="#3c3c3c" stroke-width="1"/>
<circle cx="430.9" cy="263.6" r="4.2" fill="none" stroke="#3c3c3c" stroke-width="1.25"/>
<line x1="427.88" y1="266.62" x2="433.92" y2="260.58" stroke="#3c3c3c" stroke-width="1.25"/>
<text x="431.1" y="276.92" font-size="7" text-anchor="middle" fill="#4a4a4a" stroke="#4a4a4a" stroke-width="0.25">13</text>
<text x="431.1" y="287.62" font-size="7" text-anchor="middle" fill="#4a4a4a" stroke="#4a4a4a" stroke-width="0.25">NO</text>
<text x="431.1" y="299.32" font-size="7" text-anchor="middle" fill="#4a4a4a" stroke="#4a4a4a" stroke-width="0.25">14</text>
<circle cx="430.9" cy="306.1" r="4.2" fill="none" stroke="#3c3c3c" stroke-width="1.25"/>
<line x1="427.88" y1="309.12" x2="433.92" y2="303.08" stroke="#3c3c3c" stroke-width="1.25"/>
<text x="414.2" y="276.92" font-size="7" fill="#4a4a4a" stroke="#4a4a4a" stroke-width="0.25">6-</text>
<text x="441.3" y="276.92" font-size="7" fill="#4a4a4a" stroke="#4a4a4a" stroke-width="0.25">2-</text>
<text x="453.7" y="276.92" font-size="7" fill="#4a4a4a" stroke="#4a4a4a" stroke-width="0.25">3-</text>
<text x="465" y="276.92" font-size="7" fill="#4a4a4a" stroke="#4a4a4a" stroke-width="0.25">4-</text>
<text x="478.7" y="276.92" font-size="7" fill="#4a4a4a" stroke="#4a4a4a" stroke-width="0.25">5-</text>
<text x="414.2" y="299.32" font-size="7" fill="#4a4a4a" stroke="#4a4a4a" stroke-width="0.25">6-</text>
<text x="441.3" y="299.32" font-size="7" fill="#4a4a4a" stroke="#4a4a4a" stroke-width="0.25">2-</text>
<text x="453.7" y="299.32" font-size="7" fill="#4a4a4a" stroke="#4a4a4a" stroke-width="0.25">3-</text>
<text x="465" y="299.32" font-size="7" fill="#4a4a4a" stroke="#4a4a4a" stroke-width="0.25">4-</text>
<text x="478.7" y="299.32" font-size="7" fill="#4a4a4a" stroke="#4a4a4a" stroke-width="0.25">5-</text>
<text x="521.1" y="286.93" font-size="11" text-anchor="middle" font-weight="bold" fill="#333">=</text>
<rect x="543" y="227.8" width="97.4" height="111.5" fill="none" stroke="#3c3c3c" stroke-width="1"/>
<line x1="543" y1="255.2" x2="640.4" y2="255.2" stroke="#3c3c3c" stroke-width="1"/>
<line x1="543" y1="314.3" x2="640.4" y2="314.3" stroke="#3c3c3c" stroke-width="1"/>
<polyline points="559.4,227.8 559.4,213.7 588.8,213.7 588.8,227.8" fill="none" stroke="#3c3c3c" stroke-width="1"/>
<polyline points="595.8,227.8 595.8,213.7 625.2,213.7 625.2,227.8" fill="none" stroke="#3c3c3c" stroke-width="1"/>
<text x="562.3" y="223.8" font-size="7" fill="#4a4a4a" stroke="#4a4a4a" stroke-width="0.25">A1</text>
<circle cx="580.1" cy="221.2" r="4.5" fill="none" stroke="#3c3c3c" stroke-width="1.15"/>
<line x1="576.86" y1="224.44" x2="583.34" y2="217.96" stroke="#3c3c3c" stroke-width="1.15"/>
<circle cx="604.7" cy="221.2" r="4.5" fill="none" stroke="#3c3c3c" stroke-width="1.15"/>
<line x1="601.46" y1="224.44" x2="607.94" y2="217.96" stroke="#3c3c3c" stroke-width="1.15"/>
<text x="612.4" y="223.8" font-size="7" fill="#4a4a4a" stroke="#4a4a4a" stroke-width="0.25">A2</text>
<circle cx="552.1" cy="244.7" r="4.4" fill="none" stroke="#3c3c3c" stroke-width="1.25"/>
<line x1="548.93" y1="247.87" x2="555.27" y2="241.53" stroke="#3c3c3c" stroke-width="1.25"/>
<circle cx="578.8" cy="244.7" r="4.4" fill="none" stroke="#3c3c3c" stroke-width="1.25"/>
<line x1="575.63" y1="247.87" x2="581.97" y2="241.53" stroke="#3c3c3c" stroke-width="1.25"/>
<circle cx="604.3" cy="244.7" r="4.4" fill="none" stroke="#3c3c3c" stroke-width="1.25"/>
<line x1="601.13" y1="247.87" x2="607.47" y2="241.53" stroke="#3c3c3c" stroke-width="1.25"/>
<circle cx="630.3" cy="244.7" r="4.4" fill="none" stroke="#3c3c3c" stroke-width="1.25"/>
<line x1="627.13" y1="247.87" x2="633.47" y2="241.53" stroke="#3c3c3c" stroke-width="1.25"/>
<circle cx="552.1" cy="324.2" r="4.4" fill="none" stroke="#3c3c3c" stroke-width="1.25"/>
<line x1="548.93" y1="327.37" x2="555.27" y2="321.03" stroke="#3c3c3c" stroke-width="1.25"/>
<circle cx="579.4" cy="324.2" r="4.4" fill="none" stroke="#3c3c3c" stroke-width="1.25"/>
<line x1="576.23" y1="327.37" x2="582.57" y2="321.03" stroke="#3c3c3c" stroke-width="1.25"/>
<circle cx="604.8" cy="324.2" r="4.4" fill="none" stroke="#3c3c3c" stroke-width="1.25"/>
<line x1="601.63" y1="327.37" x2="607.97" y2="321.03" stroke="#3c3c3c" stroke-width="1.25"/>
<circle cx="628.7" cy="324.2" r="4.4" fill="none" stroke="#3c3c3c" stroke-width="1.25"/>
<line x1="625.53" y1="327.37" x2="631.87" y2="321.03" stroke="#3c3c3c" stroke-width="1.25"/>
<text transform="translate(545.7,236.8) scale(0.86,1)" font-size="10" fill="#4a4a4a" stroke="#4a4a4a" stroke-width="0.15">1</text>
<text x="550.78" y="236.8" font-size="7.2" fill="#4a4a4a" stroke="#4a4a4a" stroke-width="0.15">L1</text>
<text transform="translate(572.4,236.8) scale(0.86,1)" font-size="10" fill="#4a4a4a" stroke="#4a4a4a" stroke-width="0.15">3</text>
<text x="577.48" y="236.8" font-size="7.2" fill="#4a4a4a" stroke="#4a4a4a" stroke-width="0.15">L2</text>
<text transform="translate(598,236.8) scale(0.86,1)" font-size="10" fill="#4a4a4a" stroke="#4a4a4a" stroke-width="0.15">5</text>
<text x="603.08" y="236.8" font-size="7.2" fill="#4a4a4a" stroke="#4a4a4a" stroke-width="0.15">L3</text>
<text transform="translate(623.5,236.8) scale(0.86,1)" font-size="10" fill="#4a4a4a" stroke="#4a4a4a" stroke-width="0.15">7</text>
<text x="628.58" y="236.8" font-size="7.2" fill="#4a4a4a" stroke="#4a4a4a" stroke-width="0.15">L4</text>
<text transform="translate(545.3,337.4) scale(0.86,1)" font-size="10" fill="#4a4a4a" stroke="#4a4a4a" stroke-width="0.15">2</text>
<text x="550.38" y="337.4" font-size="7.2" fill="#4a4a4a" stroke="#4a4a4a" stroke-width="0.15">T1</text>
<text transform="translate(572.6,337.4) scale(0.86,1)" font-size="10" fill="#4a4a4a" stroke="#4a4a4a" stroke-width="0.15">4</text>
<text x="577.68" y="337.4" font-size="7.2" fill="#4a4a4a" stroke="#4a4a4a" stroke-width="0.15">T2</text>
<text transform="translate(598,337.4) scale(0.86,1)" font-size="10" fill="#4a4a4a" stroke="#4a4a4a" stroke-width="0.15">6</text>
<text x="603.08" y="337.4" font-size="7.2" fill="#4a4a4a" stroke="#4a4a4a" stroke-width="0.15">T3</text>
<text transform="translate(621.9,337.4) scale(0.86,1)" font-size="10" fill="#4a4a4a" stroke="#4a4a4a" stroke-width="0.15">8</text>
<text x="626.98" y="337.4" font-size="7.2" fill="#4a4a4a" stroke="#4a4a4a" stroke-width="0.15">T4</text>
<polyline points="595.8,339.3 595.8,353.5 625.2,353.5 625.2,339.3" fill="none" stroke="#3c3c3c" stroke-width="1"/>
<circle cx="604.8" cy="346.3" r="4.5" fill="none" stroke="#3c3c3c" stroke-width="1.2"/>
<line x1="601.56" y1="343.06" x2="608.04" y2="349.54" stroke="#3c3c3c" stroke-width="1.2"/>
<text x="612.8" y="348.9" font-size="7" fill="#4a4a4a" stroke="#4a4a4a" stroke-width="0.25">A2</text>
<text x="557.2" y="276.92" font-size="7" fill="#4a4a4a" stroke="#4a4a4a" stroke-width="0.25">6-</text>
<text x="569.5" y="276.92" font-size="7" fill="#4a4a4a" stroke="#4a4a4a" stroke-width="0.25">1-</text>
<text x="581.8" y="276.92" font-size="7" fill="#4a4a4a" stroke="#4a4a4a" stroke-width="0.25">2-</text>
<text x="594.1" y="276.92" font-size="7" fill="#4a4a4a" stroke="#4a4a4a" stroke-width="0.25">3-</text>
<text x="606.4" y="276.92" font-size="7" fill="#4a4a4a" stroke="#4a4a4a" stroke-width="0.25">4-</text>
<text x="618.7" y="276.92" font-size="7" fill="#4a4a4a" stroke="#4a4a4a" stroke-width="0.25">5-</text>
<text x="557.2" y="299.32" font-size="7" fill="#4a4a4a" stroke="#4a4a4a" stroke-width="0.25">6-</text>
<text x="569.5" y="299.32" font-size="7" fill="#4a4a4a" stroke="#4a4a4a" stroke-width="0.25">1-</text>
<text x="581.8" y="299.32" font-size="7" fill="#4a4a4a" stroke="#4a4a4a" stroke-width="0.25">2-</text>
<text x="594.1" y="299.32" font-size="7" fill="#4a4a4a" stroke="#4a4a4a" stroke-width="0.25">3-</text>
<text x="606.4" y="299.32" font-size="7" fill="#4a4a4a" stroke="#4a4a4a" stroke-width="0.25">4-</text>
<text x="618.7" y="299.32" font-size="7" fill="#4a4a4a" stroke="#4a4a4a" stroke-width="0.25">5-</text>
<text x="661.5" y="286.63" font-size="11" text-anchor="middle" font-weight="bold" fill="#333">+</text>
<rect x="684.5" y="254.9" width="17.8" height="59.2" fill="none" stroke="#3c3c3c" stroke-width="1"/>
<circle cx="693.4" cy="263.9" r="4.2" fill="none" stroke="#3c3c3c" stroke-width="1.25"/>
<line x1="690.38" y1="266.92" x2="696.42" y2="260.88" stroke="#3c3c3c" stroke-width="1.25"/>
<text x="693.4" y="277.29" font-size="7.2" text-anchor="middle" fill="#4a4a4a" stroke="#4a4a4a" stroke-width="0.25">-3</text>
<text x="693.6" y="287.89" font-size="7.2" text-anchor="middle" fill="#4a4a4a" stroke="#4a4a4a" stroke-width="0.25">NO</text>
<text x="693.4" y="300.09" font-size="7.2" text-anchor="middle" fill="#4a4a4a" stroke="#4a4a4a" stroke-width="0.25">-4</text>
<circle cx="693.4" cy="305.9" r="4.2" fill="none" stroke="#3c3c3c" stroke-width="1.25"/>
<line x1="690.38" y1="308.92" x2="696.42" y2="302.88" stroke="#3c3c3c" stroke-width="1.25"/>
<text x="395.82" y="372.8" font-size="11.4" font-weight="bold" fill="#333" textLength="71.2" lengthAdjust="spacingAndGlyphs">Combination</text>
<text x="425" y="386.4" font-size="11.4" font-weight="bold" fill="#333" textLength="12.36" lengthAdjust="spacingAndGlyphs">10</text>
<text x="517.6" y="372.3" font-size="11.4" font-weight="bold" fill="#333" textLength="6.99" lengthAdjust="spacingAndGlyphs">=</text>
<text x="542.01" y="373" font-size="11.4" font-weight="bold" fill="#333" textLength="88.46" lengthAdjust="spacingAndGlyphs">A45 – A75-40-00</text>
<text x="658.77" y="373" font-size="11.4" font-weight="bold" fill="#333" textLength="5.94" lengthAdjust="spacingAndGlyphs">+</text>
<text x="672.92" y="373" font-size="11.4" font-weight="bold" fill="#333" textLength="40.16" lengthAdjust="spacingAndGlyphs">CA5-10</text>
<text x="795.4" y="13.74" font-size="7.6" fill="#4a4a4a" stroke="#4a4a4a" stroke-width="0.25">A1</text>
<text x="795.4" y="62.34" font-size="7.6" fill="#4a4a4a" stroke="#4a4a4a" stroke-width="0.25">A2</text>
<line x1="818.4" y1="35" x2="946" y2="35" stroke="#585858" stroke-width="1.2" stroke-dasharray="5,2.6"/>
<line x1="806.9" y1="18.9" x2="806.9" y2="28.4" stroke="#333333" stroke-width="1.2"/>
<rect x="796.4" y="28.4" width="22" height="13" fill="none" stroke="#333333" stroke-width="1.2"/>
<line x1="806.9" y1="41.4" x2="806.9" y2="50.4" stroke="#333333" stroke-width="1.2"/>
<line x1="834.4" y1="7.9" x2="834.4" y2="24.4" stroke="#333333" stroke-width="1.15"/>
<path d="M834.4,19.3 A1.85,2.55 0 1 0 834.4,24.4" fill="none" stroke="#333333" stroke-width="1.15"/>
<line x1="827.1" y1="25.3" x2="834.4" y2="46.1" stroke="#333333" stroke-width="1.15"/>
<line x1="834.4" y1="46.1" x2="834.4" y2="61.6" stroke="#333333" stroke-width="1.15"/>
<text stroke="#4a4a4a" stroke-width="0.2" x="818.51" y="14.32" font-size="8.5" fill="#4a4a4a" textLength="12.2" lengthAdjust="spacingAndGlyphs">1L1</text>
<text stroke="#4a4a4a" stroke-width="0.2" x="819.11" y="62.32" font-size="8.5" fill="#4a4a4a" textLength="12.6" lengthAdjust="spacingAndGlyphs">2T1</text>
<line x1="855.2" y1="7.9" x2="855.2" y2="24.4" stroke="#333333" stroke-width="1.15"/>
<path d="M855.2,19.3 A1.85,2.55 0 1 0 855.2,24.4" fill="none" stroke="#333333" stroke-width="1.15"/>
<line x1="847.9" y1="25.3" x2="855.2" y2="46.1" stroke="#333333" stroke-width="1.15"/>
<line x1="855.2" y1="46.1" x2="855.2" y2="61.6" stroke="#333333" stroke-width="1.15"/>
<text stroke="#4a4a4a" stroke-width="0.2" x="839.32" y="14.32" font-size="8.5" fill="#4a4a4a" textLength="12.2" lengthAdjust="spacingAndGlyphs">3L2</text>
<text stroke="#4a4a4a" stroke-width="0.2" x="839.92" y="62.32" font-size="8.5" fill="#4a4a4a" textLength="12.6" lengthAdjust="spacingAndGlyphs">4T2</text>
<line x1="876.5" y1="7.9" x2="876.5" y2="24.4" stroke="#333333" stroke-width="1.15"/>
<path d="M876.5,19.3 A1.85,2.55 0 1 0 876.5,24.4" fill="none" stroke="#333333" stroke-width="1.15"/>
<line x1="869.2" y1="25.3" x2="876.5" y2="46.1" stroke="#333333" stroke-width="1.15"/>
<line x1="876.5" y1="46.1" x2="876.5" y2="61.6" stroke="#333333" stroke-width="1.15"/>
<text stroke="#4a4a4a" stroke-width="0.2" x="860.57" y="14.32" font-size="8.5" fill="#4a4a4a" textLength="12.2" lengthAdjust="spacingAndGlyphs">5L3</text>
<text stroke="#4a4a4a" stroke-width="0.2" x="861.18" y="62.32" font-size="8.5" fill="#4a4a4a" textLength="12.6" lengthAdjust="spacingAndGlyphs">6T3</text>
<line x1="919.2" y1="8.1" x2="919.2" y2="24" stroke="#333333" stroke-width="1.15"/>
<line x1="912.1" y1="24.9" x2="919.2" y2="45.5" stroke="#333333" stroke-width="1.15"/>
<line x1="919.2" y1="45.5" x2="919.2" y2="61.7" stroke="#333333" stroke-width="1.15"/>
<text stroke="#4a4a4a" stroke-width="0.2" x="908.26" y="14.3" font-size="8" fill="#4a4a4a" textLength="8.01" lengthAdjust="spacingAndGlyphs">13</text>
<text stroke="#4a4a4a" stroke-width="0.2" x="905.69" y="20.6" font-size="8" fill="#4a4a4a" textLength="10.8" lengthAdjust="spacingAndGlyphs">NO</text>
<text stroke="#4a4a4a" stroke-width="0.2" x="905.69" y="56.1" font-size="8" fill="#4a4a4a" textLength="10.8" lengthAdjust="spacingAndGlyphs">NO</text>
<text stroke="#4a4a4a" stroke-width="0.2" x="908.15" y="62.2" font-size="8" fill="#4a4a4a" textLength="8.01" lengthAdjust="spacingAndGlyphs">14</text>
<polyline points="939.5,8.1 939.5,25 947.7,25" fill="none" stroke="#333333" stroke-width="1.15"/>
<line x1="947.7" y1="25" x2="939.9" y2="45.5" stroke="#333333" stroke-width="1.15"/>
<line x1="939.5" y1="45.5" x2="939.5" y2="61.7" stroke="#333333" stroke-width="1.15"/>
<text stroke="#4a4a4a" stroke-width="0.2" x="929.39" y="14.3" font-size="8" fill="#4a4a4a" textLength="8.01" lengthAdjust="spacingAndGlyphs">21</text>
<text stroke="#4a4a4a" stroke-width="0.2" x="927.22" y="20.6" font-size="8" fill="#4a4a4a" textLength="10.4" lengthAdjust="spacingAndGlyphs">NC</text>
<text stroke="#4a4a4a" stroke-width="0.2" x="927.22" y="56.1" font-size="8" fill="#4a4a4a" textLength="10.4" lengthAdjust="spacingAndGlyphs">NC</text>
<text stroke="#4a4a4a" stroke-width="0.2" x="929.4" y="62.2" font-size="8" fill="#4a4a4a" textLength="8.01" lengthAdjust="spacingAndGlyphs">22</text>
<text x="795.23" y="81.6" font-size="11.7" font-weight="bold" fill="#333" textLength="85.38" lengthAdjust="spacingAndGlyphs">Combination 11</text>
<text x="795.1" y="110.84" font-size="7.6" fill="#4a4a4a" stroke="#4a4a4a" stroke-width="0.25">A1</text>
<text x="795.1" y="158.44" font-size="7.6" fill="#4a4a4a" stroke="#4a4a4a" stroke-width="0.25">A2</text>
<line x1="818.1" y1="132.1" x2="960" y2="132.1" stroke="#585858" stroke-width="1.2" stroke-dasharray="5,2.6"/>
<line x1="807.2" y1="116.6" x2="807.2" y2="125.7" stroke="#333333" stroke-width="1.2"/>
<rect x="795.9" y="125.7" width="22.2" height="12.6" fill="none" stroke="#333333" stroke-width="1.2"/>
<line x1="807.2" y1="138.3" x2="807.2" y2="146.7" stroke="#333333" stroke-width="1.2"/>
<line x1="834.5" y1="105.5" x2="834.5" y2="121.6" stroke="#333333" stroke-width="1.15"/>
<path d="M834.5,116.5 A1.85,2.55 0 1 0 834.5,121.6" fill="none" stroke="#333333" stroke-width="1.15"/>
<line x1="827.2" y1="122.5" x2="834.5" y2="142.4" stroke="#333333" stroke-width="1.15"/>
<line x1="834.5" y1="142.4" x2="834.5" y2="159.3" stroke="#333333" stroke-width="1.15"/>
<text stroke="#4a4a4a" stroke-width="0.2" x="818.61" y="111.02" font-size="8.5" fill="#4a4a4a" textLength="12.2" lengthAdjust="spacingAndGlyphs">1L1</text>
<text stroke="#4a4a4a" stroke-width="0.2" x="819.21" y="158.62" font-size="8.5" fill="#4a4a4a" textLength="12.6" lengthAdjust="spacingAndGlyphs">2T1</text>
<line x1="855.5" y1="105.5" x2="855.5" y2="121.6" stroke="#333333" stroke-width="1.15"/>
<path d="M855.5,116.5 A1.85,2.55 0 1 0 855.5,121.6" fill="none" stroke="#333333" stroke-width="1.15"/>
<line x1="848.2" y1="122.5" x2="855.5" y2="142.4" stroke="#333333" stroke-width="1.15"/>
<line x1="855.5" y1="142.4" x2="855.5" y2="159.3" stroke="#333333" stroke-width="1.15"/>
<text stroke="#4a4a4a" stroke-width="0.2" x="839.62" y="111.02" font-size="8.5" fill="#4a4a4a" textLength="12.2" lengthAdjust="spacingAndGlyphs">3L2</text>
<text stroke="#4a4a4a" stroke-width="0.2" x="840.22" y="158.62" font-size="8.5" fill="#4a4a4a" textLength="12.6" lengthAdjust="spacingAndGlyphs">4T2</text>
<line x1="876.7" y1="105.5" x2="876.7" y2="121.6" stroke="#333333" stroke-width="1.15"/>
<path d="M876.7,116.5 A1.85,2.55 0 1 0 876.7,121.6" fill="none" stroke="#333333" stroke-width="1.15"/>
<line x1="869.4" y1="122.5" x2="876.7" y2="142.4" stroke="#333333" stroke-width="1.15"/>
<line x1="876.7" y1="142.4" x2="876.7" y2="159.3" stroke="#333333" stroke-width="1.15"/>
<text stroke="#4a4a4a" stroke-width="0.2" x="860.77" y="111.02" font-size="8.5" fill="#4a4a4a" textLength="12.2" lengthAdjust="spacingAndGlyphs">5L3</text>
<text stroke="#4a4a4a" stroke-width="0.2" x="861.38" y="158.62" font-size="8.5" fill="#4a4a4a" textLength="12.6" lengthAdjust="spacingAndGlyphs">6T3</text>
<line x1="919" y1="105.1" x2="919" y2="121.2" stroke="#333333" stroke-width="1.7"/>
<line x1="911.6" y1="122.1" x2="919" y2="142.4" stroke="#333333" stroke-width="1.7"/>
<line x1="919" y1="142.4" x2="919" y2="159.3" stroke="#333333" stroke-width="1.7"/>
<text x="908.1" y="110.8" font-size="8" font-weight="bold" fill="#222" textLength="8.01" lengthAdjust="spacingAndGlyphs">13</text>
<text x="905.85" y="117.6" font-size="8" font-weight="bold" fill="#222" textLength="10.8" lengthAdjust="spacingAndGlyphs">NO</text>
<text x="905.85" y="152.3" font-size="8" font-weight="bold" fill="#222" textLength="10.8" lengthAdjust="spacingAndGlyphs">NO</text>
<text x="907.88" y="158.7" font-size="8" font-weight="bold" fill="#222" textLength="8.01" lengthAdjust="spacingAndGlyphs">14</text>
<polyline points="940.3,105.1 940.3,122 948.3,122" fill="none" stroke="#333333" stroke-width="1.15"/>
<line x1="948.3" y1="122" x2="940.7" y2="142.4" stroke="#333333" stroke-width="1.15"/>
<line x1="940.3" y1="142.4" x2="940.3" y2="159.3" stroke="#333333" stroke-width="1.15"/>
<text stroke="#4a4a4a" stroke-width="0.2" x="929.99" y="110.8" font-size="8" fill="#4a4a4a" textLength="8.01" lengthAdjust="spacingAndGlyphs">21</text>
<text stroke="#4a4a4a" stroke-width="0.2" x="927.52" y="117.6" font-size="8" fill="#4a4a4a" textLength="10.4" lengthAdjust="spacingAndGlyphs">NC</text>
<text stroke="#4a4a4a" stroke-width="0.2" x="927.52" y="152.3" font-size="8" fill="#4a4a4a" textLength="10.4" lengthAdjust="spacingAndGlyphs">NC</text>
<text stroke="#4a4a4a" stroke-width="0.2" x="930" y="158.7" font-size="8" fill="#4a4a4a" textLength="8.01" lengthAdjust="spacingAndGlyphs">22</text>
<line x1="961.3" y1="105.1" x2="961.3" y2="121.2" stroke="#333333" stroke-width="1.15"/>
<line x1="954.2" y1="122.1" x2="961.3" y2="142.4" stroke="#333333" stroke-width="1.15"/>
<line x1="961.3" y1="142.4" x2="961.3" y2="159.3" stroke="#333333" stroke-width="1.15"/>
<text stroke="#4a4a4a" stroke-width="0.2" x="951.16" y="110.8" font-size="8" fill="#4a4a4a" textLength="8.01" lengthAdjust="spacingAndGlyphs">33</text>
<text stroke="#4a4a4a" stroke-width="0.2" x="948.69" y="117.6" font-size="8" fill="#4a4a4a" textLength="10.8" lengthAdjust="spacingAndGlyphs">NO</text>
<text stroke="#4a4a4a" stroke-width="0.2" x="948.69" y="152.3" font-size="8" fill="#4a4a4a" textLength="10.8" lengthAdjust="spacingAndGlyphs">NO</text>
<text stroke="#4a4a4a" stroke-width="0.2" x="951.05" y="158.7" font-size="8" fill="#4a4a4a" textLength="8.01" lengthAdjust="spacingAndGlyphs">34</text>
<text x="795.23" y="178.6" font-size="11.7" font-weight="bold" fill="#333" textLength="85.38" lengthAdjust="spacingAndGlyphs">Combination 21</text>
<text x="798.5" y="216.24" font-size="7.6" fill="#4a4a4a" stroke="#4a4a4a" stroke-width="0.25">A1</text>
<text x="798.5" y="266.54" font-size="7.6" fill="#4a4a4a" stroke="#4a4a4a" stroke-width="0.25">A2</text>
<line x1="821.8" y1="238.1" x2="960" y2="238.1" stroke="#585858" stroke-width="1.2" stroke-dasharray="5,2.6"/>
<line x1="811.1" y1="221.7" x2="811.1" y2="231.3" stroke="#333333" stroke-width="1.2"/>
<rect x="800.2" y="231.3" width="21.6" height="13.5" fill="none" stroke="#333333" stroke-width="1.2"/>
<line x1="811.1" y1="244.8" x2="811.1" y2="253.3" stroke="#333333" stroke-width="1.2"/>
<line x1="838.2" y1="210.5" x2="838.2" y2="227.3" stroke="#333333" stroke-width="1.15"/>
<path d="M838.2,221.9 A1.9,2.7 0 1 0 838.2,227.3" fill="none" stroke="#333333" stroke-width="1.15"/>
<line x1="830.7" y1="228.2" x2="838.2" y2="247.4" stroke="#333333" stroke-width="1.15"/>
<line x1="838.2" y1="247.4" x2="838.2" y2="265.1" stroke="#333333" stroke-width="1.15"/>
<text stroke="#4a4a4a" stroke-width="0.2" x="822.91" y="215.92" font-size="8.5" fill="#4a4a4a" textLength="12.2" lengthAdjust="spacingAndGlyphs">1L1</text>
<text stroke="#4a4a4a" stroke-width="0.2" x="823.01" y="265.62" font-size="8.5" fill="#4a4a4a" textLength="12.6" lengthAdjust="spacingAndGlyphs">2T1</text>
<line x1="859.4" y1="210.5" x2="859.4" y2="227.3" stroke="#333333" stroke-width="1.15"/>
<path d="M859.4,221.9 A1.9,2.7 0 1 0 859.4,227.3" fill="none" stroke="#333333" stroke-width="1.15"/>
<line x1="851.9" y1="228.2" x2="859.4" y2="247.4" stroke="#333333" stroke-width="1.15"/>
<line x1="859.4" y1="247.4" x2="859.4" y2="265.1" stroke="#333333" stroke-width="1.15"/>
<text stroke="#4a4a4a" stroke-width="0.2" x="844.12" y="215.92" font-size="8.5" fill="#4a4a4a" textLength="12.2" lengthAdjust="spacingAndGlyphs">3L2</text>
<text stroke="#4a4a4a" stroke-width="0.2" x="844.22" y="265.62" font-size="8.5" fill="#4a4a4a" textLength="12.6" lengthAdjust="spacingAndGlyphs">4T2</text>
<line x1="880.2" y1="210.5" x2="880.2" y2="227.3" stroke="#333333" stroke-width="1.15"/>
<path d="M880.2,221.9 A1.9,2.7 0 1 0 880.2,227.3" fill="none" stroke="#333333" stroke-width="1.15"/>
<line x1="872.7" y1="228.2" x2="880.2" y2="247.4" stroke="#333333" stroke-width="1.15"/>
<line x1="880.2" y1="247.4" x2="880.2" y2="265.1" stroke="#333333" stroke-width="1.15"/>
<text stroke="#4a4a4a" stroke-width="0.2" x="864.87" y="215.92" font-size="8.5" fill="#4a4a4a" textLength="12.2" lengthAdjust="spacingAndGlyphs">5L3</text>
<text stroke="#4a4a4a" stroke-width="0.2" x="864.98" y="265.62" font-size="8.5" fill="#4a4a4a" textLength="12.6" lengthAdjust="spacingAndGlyphs">6T3</text>
<line x1="901.1" y1="211" x2="901.1" y2="226.3" stroke="#333333" stroke-width="1.15"/>
<line x1="894.4" y1="227.2" x2="901.1" y2="247.4" stroke="#333333" stroke-width="1.15"/>
<line x1="901.1" y1="247.4" x2="901.1" y2="265.1" stroke="#333333" stroke-width="1.15"/>
<text stroke="#4a4a4a" stroke-width="0.2" x="886.39" y="216" font-size="8" fill="#4a4a4a" textLength="12.81" lengthAdjust="spacingAndGlyphs">13X</text>
<text stroke="#4a4a4a" stroke-width="0.2" x="888.29" y="224.5" font-size="8" fill="#4a4a4a" textLength="10.8" lengthAdjust="spacingAndGlyphs">NO</text>
<text stroke="#4a4a4a" stroke-width="0.2" x="888.29" y="257.8" font-size="8" fill="#4a4a4a" textLength="10.8" lengthAdjust="spacingAndGlyphs">NO</text>
<text stroke="#4a4a4a" stroke-width="0.2" x="886.39" y="265.7" font-size="8" fill="#4a4a4a" textLength="12.81" lengthAdjust="spacingAndGlyphs">14X</text>
<polyline points="921.4,211 921.4,227.5 929.9,227.5" fill="none" stroke="#333333" stroke-width="1.15"/>
<line x1="929.9" y1="227.5" x2="921.8" y2="249" stroke="#333333" stroke-width="1.15"/>
<line x1="921.4" y1="249" x2="921.4" y2="265.1" stroke="#333333" stroke-width="1.15"/>
<text stroke="#4a4a4a" stroke-width="0.2" x="906.69" y="216" font-size="8" fill="#4a4a4a" textLength="12.81" lengthAdjust="spacingAndGlyphs">21X</text>
<text stroke="#4a4a4a" stroke-width="0.2" x="908.92" y="224.5" font-size="8" fill="#4a4a4a" textLength="10.4" lengthAdjust="spacingAndGlyphs">NC</text>
<text stroke="#4a4a4a" stroke-width="0.2" x="908.92" y="257.8" font-size="8" fill="#4a4a4a" textLength="10.4" lengthAdjust="spacingAndGlyphs">NC</text>
<text stroke="#4a4a4a" stroke-width="0.2" x="906.69" y="265.7" font-size="8" fill="#4a4a4a" textLength="12.81" lengthAdjust="spacingAndGlyphs">22X</text>
<polyline points="942.6,211 942.6,227.5 950.2,227.5" fill="none" stroke="#333333" stroke-width="1.15"/>
<line x1="950.2" y1="227.5" x2="943" y2="249" stroke="#333333" stroke-width="1.15"/>
<line x1="942.6" y1="249" x2="942.6" y2="265.1" stroke="#333333" stroke-width="1.15"/>
<text stroke="#4a4a4a" stroke-width="0.2" x="927.89" y="216" font-size="8" fill="#4a4a4a" textLength="12.81" lengthAdjust="spacingAndGlyphs">31X</text>
<text stroke="#4a4a4a" stroke-width="0.2" x="930.12" y="224.5" font-size="8" fill="#4a4a4a" textLength="10.4" lengthAdjust="spacingAndGlyphs">NC</text>
<text stroke="#4a4a4a" stroke-width="0.2" x="930.12" y="257.8" font-size="8" fill="#4a4a4a" textLength="10.4" lengthAdjust="spacingAndGlyphs">NC</text>
<text stroke="#4a4a4a" stroke-width="0.2" x="927.89" y="265.7" font-size="8" fill="#4a4a4a" textLength="12.81" lengthAdjust="spacingAndGlyphs">32X</text>
<line x1="963.7" y1="211" x2="963.7" y2="226.3" stroke="#333333" stroke-width="1.15"/>
<line x1="957.5" y1="227.2" x2="963.7" y2="247.4" stroke="#333333" stroke-width="1.15"/>
<line x1="963.7" y1="247.4" x2="963.7" y2="265.1" stroke="#333333" stroke-width="1.15"/>
<text stroke="#4a4a4a" stroke-width="0.2" x="948.89" y="216" font-size="8" fill="#4a4a4a" textLength="12.81" lengthAdjust="spacingAndGlyphs">43X</text>
<text stroke="#4a4a4a" stroke-width="0.2" x="950.89" y="224.5" font-size="8" fill="#4a4a4a" textLength="10.8" lengthAdjust="spacingAndGlyphs">NO</text>
<text stroke="#4a4a4a" stroke-width="0.2" x="950.89" y="257.8" font-size="8" fill="#4a4a4a" textLength="10.8" lengthAdjust="spacingAndGlyphs">NO</text>
<text stroke="#4a4a4a" stroke-width="0.2" x="948.89" y="265.7" font-size="8" fill="#4a4a4a" textLength="12.81" lengthAdjust="spacingAndGlyphs">44X</text>
<text x="799.43" y="285.4" font-size="11.7" font-weight="bold" fill="#333" textLength="86.03" lengthAdjust="spacingAndGlyphs">Combination 22</text>
<text x="801.5" y="319.54" font-size="7.6" fill="#4a4a4a" stroke="#4a4a4a" stroke-width="0.25">A1</text>
<text x="801.5" y="367.84" font-size="7.6" fill="#4a4a4a" stroke="#4a4a4a" stroke-width="0.25">A2</text>
<line x1="826.4" y1="340.9" x2="963" y2="340.9" stroke="#585858" stroke-width="1.2" stroke-dasharray="5,2.6"/>
<line x1="814" y1="321.9" x2="814" y2="332.9" stroke="#333333" stroke-width="1.2"/>
<rect x="801.5" y="332.9" width="24.9" height="15.2" fill="none" stroke="#333333" stroke-width="1.2"/>
<line x1="814" y1="348.1" x2="814" y2="358.3" stroke="#333333" stroke-width="1.2"/>
<line x1="850.9" y1="313" x2="850.9" y2="328.3" stroke="#333333" stroke-width="1.15"/>
<path d="M850.9,322.1 A2.1,3.1 0 1 0 850.9,328.3" fill="none" stroke="#333333" stroke-width="1.15"/>
<line x1="842.8" y1="329.2" x2="850.9" y2="350.7" stroke="#333333" stroke-width="1.15"/>
<line x1="850.9" y1="350.7" x2="850.9" y2="367.6" stroke="#333333" stroke-width="1.15"/>
<text stroke="#4a4a4a" stroke-width="0.2" x="834.41" y="319.42" font-size="8.5" fill="#4a4a4a" textLength="12.2" lengthAdjust="spacingAndGlyphs">1L1</text>
<text stroke="#4a4a4a" stroke-width="0.2" x="834.81" y="367.22" font-size="8.5" fill="#4a4a4a" textLength="12.6" lengthAdjust="spacingAndGlyphs">2T1</text>
<line x1="874.6" y1="313" x2="874.6" y2="328.3" stroke="#333333" stroke-width="1.15"/>
<path d="M874.6,322.1 A2.1,3.1 0 1 0 874.6,328.3" fill="none" stroke="#333333" stroke-width="1.15"/>
<line x1="866.5" y1="329.2" x2="874.6" y2="350.7" stroke="#333333" stroke-width="1.15"/>
<line x1="874.6" y1="350.7" x2="874.6" y2="367.6" stroke="#333333" stroke-width="1.15"/>
<text stroke="#4a4a4a" stroke-width="0.2" x="858.12" y="319.42" font-size="8.5" fill="#4a4a4a" textLength="12.2" lengthAdjust="spacingAndGlyphs">3L2</text>
<text stroke="#4a4a4a" stroke-width="0.2" x="858.52" y="367.22" font-size="8.5" fill="#4a4a4a" textLength="12.6" lengthAdjust="spacingAndGlyphs">4T2</text>
<line x1="898.9" y1="313" x2="898.9" y2="328.3" stroke="#333333" stroke-width="1.15"/>
<path d="M898.9,322.1 A2.1,3.1 0 1 0 898.9,328.3" fill="none" stroke="#333333" stroke-width="1.15"/>
<line x1="890.8" y1="329.2" x2="898.9" y2="350.7" stroke="#333333" stroke-width="1.15"/>
<line x1="898.9" y1="350.7" x2="898.9" y2="367.6" stroke="#333333" stroke-width="1.15"/>
<text stroke="#4a4a4a" stroke-width="0.2" x="882.37" y="319.42" font-size="8.5" fill="#4a4a4a" textLength="12.2" lengthAdjust="spacingAndGlyphs">5L3</text>
<text stroke="#4a4a4a" stroke-width="0.2" x="882.78" y="367.22" font-size="8.5" fill="#4a4a4a" textLength="12.6" lengthAdjust="spacingAndGlyphs">6T3</text>
<line x1="923.6" y1="313" x2="923.6" y2="328.3" stroke="#333333" stroke-width="1.15"/>
<path d="M923.6,322.1 A2.1,3.1 0 1 0 923.6,328.3" fill="none" stroke="#333333" stroke-width="1.15"/>
<line x1="915.5" y1="329.2" x2="923.6" y2="350.7" stroke="#333333" stroke-width="1.15"/>
<line x1="923.6" y1="350.7" x2="923.6" y2="367.6" stroke="#333333" stroke-width="1.15"/>
<text stroke="#4a4a4a" stroke-width="0.2" x="906.97" y="319.42" font-size="8.5" fill="#4a4a4a" textLength="12.2" lengthAdjust="spacingAndGlyphs">7L4</text>
<text stroke="#4a4a4a" stroke-width="0.2" x="907.37" y="367.22" font-size="8.5" fill="#4a4a4a" textLength="12.6" lengthAdjust="spacingAndGlyphs">8T4</text>
<line x1="964.6" y1="313.5" x2="964.6" y2="327.8" stroke="#333333" stroke-width="1.15"/>
<line x1="957.8" y1="328.7" x2="964.6" y2="350.7" stroke="#333333" stroke-width="1.15"/>
<line x1="964.6" y1="350.7" x2="964.6" y2="367.6" stroke="#333333" stroke-width="1.15"/>
<text stroke="#4a4a4a" stroke-width="0.2" x="955.56" y="319.3" font-size="8" fill="#4a4a4a" textLength="8.01" lengthAdjust="spacingAndGlyphs">13</text>
<text stroke="#4a4a4a" stroke-width="0.2" x="952.79" y="325.6" font-size="8" fill="#4a4a4a" textLength="10.8" lengthAdjust="spacingAndGlyphs">NO</text>
<text stroke="#4a4a4a" stroke-width="0.2" x="952.79" y="361.9" font-size="8" fill="#4a4a4a" textLength="10.8" lengthAdjust="spacingAndGlyphs">NO</text>
<text stroke="#4a4a4a" stroke-width="0.2" x="955.45" y="367.9" font-size="8" fill="#4a4a4a" textLength="8.01" lengthAdjust="spacingAndGlyphs">14</text>
<text x="800.73" y="387" font-size="11.7" font-weight="bold" fill="#333" textLength="86.75" lengthAdjust="spacingAndGlyphs">Combination 10</text>
</svg></body></html>
